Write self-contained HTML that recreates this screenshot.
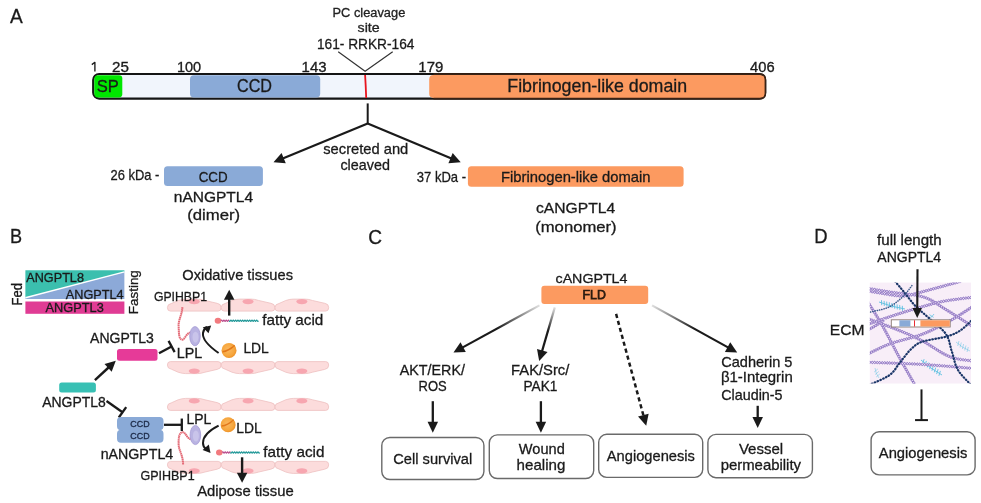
<!DOCTYPE html>
<html><head><meta charset="utf-8"><style>
html,body{margin:0;padding:0;background:#fff;width:981px;height:503px;overflow:hidden}
svg{display:block;will-change:transform}
text{font-family:"Liberation Sans",sans-serif}
</style></head><body>
<svg width="981" height="503" viewBox="0 0 981 503">
<defs>
<marker id="ah" viewBox="0 0 10 10" refX="9" refY="5" markerWidth="4" markerHeight="4" orient="auto-start-reverse"><path d="M0,0 L10,5 L0,10 z" fill="#1a1a1a"/></marker>
</defs>
<text x="10.10" y="23.20" font-size="21" textLength="12.74" lengthAdjust="spacingAndGlyphs" fill="#1a1a1a" stroke="#1a1a1a" stroke-width="0.3" >A</text>
<path d="M94.9,71.6 L94.9,62.3 L91.8,64.6" fill="none" stroke="#1a1a1a" stroke-width="1.35" stroke-linejoin="round"/>
<text x="112.14" y="71.70" font-size="13.8" textLength="16.90" lengthAdjust="spacingAndGlyphs" fill="#1a1a1a" stroke="#1a1a1a" stroke-width="0.3" >25</text>
<text x="176.91" y="71.70" font-size="13.8" textLength="24.25" lengthAdjust="spacingAndGlyphs" fill="#1a1a1a" stroke="#1a1a1a" stroke-width="0.3" >100</text>
<text x="301.58" y="71.70" font-size="13.8" textLength="24.97" lengthAdjust="spacingAndGlyphs" fill="#1a1a1a" stroke="#1a1a1a" stroke-width="0.3" >143</text>
<text x="418.38" y="71.70" font-size="13.8" textLength="24.95" lengthAdjust="spacingAndGlyphs" fill="#1a1a1a" stroke="#1a1a1a" stroke-width="0.3" >179</text>
<text x="750.11" y="71.70" font-size="13.8" textLength="24.53" lengthAdjust="spacingAndGlyphs" fill="#1a1a1a" stroke="#1a1a1a" stroke-width="0.3" >406</text>
<rect x="93.2" y="74.0" width="672" height="24.6" rx="6" fill="#f1f5fc" stroke="#151515" stroke-width="2.2"/>
<path d="M98,75.2 L119,75.2 Q122.3,75.2 122.3,78.5 L122.3,94.3 Q122.3,97.4 119,97.4 L98,97.4 Q94.3,97.4 94.3,93.7 L94.3,79 Q94.3,75.2 98,75.2 Z" fill="#00e600"/>
<rect x="190" y="75.2" width="130.2" height="22.2" rx="4" fill="#8aaad7"/>
<path d="M433.5,74.9 L760,74.9 Q765,74.9 765,79.9 L765,93.2 Q765,97.9 760,97.9 L433.5,97.9 Q429.2,97.9 429.2,93.6 L429.2,79.2 Q429.2,74.9 433.5,74.9 Z" fill="#fc9a60"/>
<path d="M433.5,74.1 L760,74.1 Q765.4,74.1 765.4,79.5 L765.4,93.3 Q765.4,98.6 760,98.6 L433.5,98.6" fill="none" stroke="#3a2214" stroke-width="1.6"/>
<path d="M365.1,75 Q365.8,86 366.2,98" fill="none" stroke="#e8141e" stroke-width="1.8"/>
<text x="96.86" y="91.70" font-size="17.3" textLength="22.04" lengthAdjust="spacingAndGlyphs" fill="#1a1a1a" stroke="#1a1a1a" stroke-width="0.3" >SP</text>
<text x="236.99" y="92.00" font-size="18" textLength="34.96" lengthAdjust="spacingAndGlyphs" fill="#1a1a1a" stroke="#1a1a1a" stroke-width="0.3" >CCD</text>
<text x="507.28" y="91.90" font-size="17.7" textLength="179.91" lengthAdjust="spacingAndGlyphs" fill="#1a1a1a" stroke="#1a1a1a" stroke-width="0.3" >Fibrinogen-like domain</text>
<polyline points="338.2,51.7 365.1,71.2 392.7,51.7" fill="none" stroke="#333" stroke-width="1.2"/>
<text x="332.57" y="16.50" font-size="12.5" textLength="72.70" lengthAdjust="spacingAndGlyphs" fill="#222" stroke="#222" stroke-width="0.3" >PC cleavage</text>
<text x="357.57" y="32.00" font-size="12.5" textLength="22.08" lengthAdjust="spacingAndGlyphs" fill="#222" stroke="#222" stroke-width="0.3" >site</text>
<text x="316.97" y="48.60" font-size="15" textLength="97.43" lengthAdjust="spacingAndGlyphs" fill="#1a1a1a" stroke="#1a1a1a" stroke-width="0.3" >161- RRKR-164</text>
<line x1="367.7" y1="103.4" x2="367.7" y2="124" stroke="#1a1a1a" stroke-width="2"/>
<line x1="367.70" y1="123.50" x2="282.75" y2="158.49" stroke="#1a1a1a" stroke-width="2.2"/>
<path d="M273.50,162.30 L281.58,153.03 L285.77,163.20 Z" fill="#1a1a1a"/>
<line x1="367.70" y1="123.50" x2="451.47" y2="158.45" stroke="#1a1a1a" stroke-width="2.2"/>
<path d="M460.70,162.30 L448.43,163.14 L452.67,152.99 Z" fill="#1a1a1a"/>
<text x="323.26" y="153.90" font-size="15" textLength="85.02" lengthAdjust="spacingAndGlyphs" fill="#1a1a1a" stroke="#1a1a1a" stroke-width="0.3" >secreted and</text>
<text x="340.43" y="170.20" font-size="15" textLength="49.43" lengthAdjust="spacingAndGlyphs" fill="#1a1a1a" stroke="#1a1a1a" stroke-width="0.3" >cleaved</text>
<rect x="164" y="166.2" width="98.9" height="19.9" rx="3.5" fill="#8aaad7"/>
<text x="198.63" y="182.00" font-size="15" textLength="28.99" lengthAdjust="spacingAndGlyphs" fill="#1a1a1a" stroke="#1a1a1a" stroke-width="0.3" >CCD</text>
<text x="110.55" y="180.40" font-size="15" textLength="48.82" lengthAdjust="spacingAndGlyphs" fill="#1a1a1a" stroke="#1a1a1a" stroke-width="0.3" >26 kDa -</text>
<text x="173.79" y="202.10" font-size="15" textLength="79.33" lengthAdjust="spacingAndGlyphs" fill="#1a1a1a" stroke="#1a1a1a" stroke-width="0.3" >nANGPTL4</text>
<text x="187.20" y="219.50" font-size="15" textLength="52.93" lengthAdjust="spacingAndGlyphs" fill="#1a1a1a" stroke="#1a1a1a" stroke-width="0.3" >(dimer)</text>
<rect x="467.9" y="166.2" width="215.7" height="20.5" rx="3.5" fill="#fc9a60"/>
<text x="501.02" y="181.50" font-size="15" textLength="149.57" lengthAdjust="spacingAndGlyphs" fill="#1a1a1a" stroke="#1a1a1a" stroke-width="0.3" >Fibrinogen-like domain</text>
<text x="416.78" y="181.50" font-size="15" textLength="49.30" lengthAdjust="spacingAndGlyphs" fill="#1a1a1a" stroke="#1a1a1a" stroke-width="0.3" >37 kDa -</text>
<text x="535.97" y="213.30" font-size="15" textLength="79.13" lengthAdjust="spacingAndGlyphs" fill="#1a1a1a" stroke="#1a1a1a" stroke-width="0.3" >cANGPTL4</text>
<text x="535.20" y="232.20" font-size="15" textLength="81.48" lengthAdjust="spacingAndGlyphs" fill="#1a1a1a" stroke="#1a1a1a" stroke-width="0.3" >(monomer)</text>
<text x="10.05" y="242.90" font-size="21" textLength="12.09" lengthAdjust="spacingAndGlyphs" fill="#1a1a1a" stroke="#1a1a1a" stroke-width="0.3" >B</text>
<path d="M25.4,270.3 L124.4,270.3 L124.4,271.9 L25.4,297.7 Z" fill="#3bbfae"/>
<path d="M124.4,271.9 L124.4,299.1 L25.4,299.1 L25.4,297.7 Z" fill="#8ca9d8"/>
<line x1="25.4" y1="297.7" x2="124.4" y2="271.9" stroke="#fff" stroke-width="1.4"/>
<rect x="25.4" y="301.5" width="99" height="12.3" fill="#e03c94"/>
<text x="26.30" y="281.70" font-size="12.4" textLength="57.63" lengthAdjust="spacingAndGlyphs" fill="#1a1a1a" stroke="#1a1a1a" stroke-width="0.3" >ANGPTL8</text>
<text x="65.80" y="298.70" font-size="12.4" textLength="57.71" lengthAdjust="spacingAndGlyphs" fill="#1a1a1a" stroke="#1a1a1a" stroke-width="0.3" >ANGPTL4</text>
<text x="45.60" y="311.90" font-size="12.4" textLength="58.14" lengthAdjust="spacingAndGlyphs" fill="#1a1a1a" stroke="#1a1a1a" stroke-width="0.3" >ANGPTL3</text>
<g transform="translate(22,304.4) rotate(-90)"><text x="-1.05" y="0.00" font-size="14.3" textLength="22.54" lengthAdjust="spacingAndGlyphs" fill="#1a1a1a" stroke="#1a1a1a" stroke-width="0.3" >Fed</text></g>
<g transform="translate(137.5,313.2) rotate(-90)"><text x="-1.08" y="0.00" font-size="12.7" textLength="44.14" lengthAdjust="spacingAndGlyphs" fill="#1a1a1a" stroke="#1a1a1a" stroke-width="0.3" >Fasting</text></g>
<path d="M170.4,311.1 L218.10000000000002,311.1 Q221.10000000000002,311.1 221.10000000000002,307.6 Q221.10000000000002,303.8 217.10000000000002,303.3 L204.99,300.5 Q200.69400000000002,299.1 197.472,299.1 L185.65800000000002,299.1 Q182.436,299.1 178.14000000000001,300.5 L171.4,303.5 Q167.4,304.1 167.4,307.6 Q167.4,311.1 170.4,311.1 Z" fill="#fcdcdc" stroke="#eec0c0" stroke-width="0.8"/>
<ellipse cx="194.25" cy="301.6" rx="5.5" ry="2.6" fill="#f7a6b0"/>
<path d="M224.2,311.1 L271.9,311.1 Q274.9,311.1 274.9,307.6 Q274.9,303.8 270.9,303.3 L258.78999999999996,300.5 Q254.494,299.1 251.272,299.1 L239.458,299.1 Q236.236,299.1 231.94,300.5 L225.2,303.5 Q221.2,304.1 221.2,307.6 Q221.2,311.1 224.2,311.1 Z" fill="#fcdcdc" stroke="#eec0c0" stroke-width="0.8"/>
<ellipse cx="248.04999999999998" cy="301.6" rx="5.5" ry="2.6" fill="#f7a6b0"/>
<path d="M278.0,311.1 L325.7,311.1 Q328.7,311.1 328.7,307.6 Q328.7,303.8 324.7,303.3 L312.59,300.5 Q308.294,299.1 305.072,299.1 L293.258,299.1 Q290.036,299.1 285.74,300.5 L279.0,303.5 Q275.0,304.1 275.0,307.6 Q275.0,311.1 278.0,311.1 Z" fill="#fcdcdc" stroke="#eec0c0" stroke-width="0.8"/>
<ellipse cx="301.85" cy="301.6" rx="5.5" ry="2.6" fill="#f7a6b0"/>
<path d="M170.4,361.6 L218.10000000000002,361.6 Q221.10000000000002,361.6 221.10000000000002,365.1 Q221.10000000000002,368.90000000000003 217.10000000000002,369.40000000000003 L204.99,372.20000000000005 Q200.69400000000002,373.6 197.472,373.6 L185.65800000000002,373.6 Q182.436,373.6 178.14000000000001,372.20000000000005 L171.4,369.20000000000005 Q167.4,368.6 167.4,365.1 Q167.4,361.6 170.4,361.6 Z" fill="#fcdcdc" stroke="#eec0c0" stroke-width="0.8"/>
<ellipse cx="194.25" cy="371.1" rx="5.5" ry="2.6" fill="#f7a6b0"/>
<path d="M224.2,361.6 L271.9,361.6 Q274.9,361.6 274.9,365.1 Q274.9,368.90000000000003 270.9,369.40000000000003 L258.78999999999996,372.20000000000005 Q254.494,373.6 251.272,373.6 L239.458,373.6 Q236.236,373.6 231.94,372.20000000000005 L225.2,369.20000000000005 Q221.2,368.6 221.2,365.1 Q221.2,361.6 224.2,361.6 Z" fill="#fcdcdc" stroke="#eec0c0" stroke-width="0.8"/>
<ellipse cx="248.04999999999998" cy="371.1" rx="5.5" ry="2.6" fill="#f7a6b0"/>
<path d="M278.0,361.6 L325.7,361.6 Q328.7,361.6 328.7,365.1 Q328.7,368.90000000000003 324.7,369.40000000000003 L312.59,372.20000000000005 Q308.294,373.6 305.072,373.6 L293.258,373.6 Q290.036,373.6 285.74,372.20000000000005 L279.0,369.20000000000005 Q275.0,368.6 275.0,365.1 Q275.0,361.6 278.0,361.6 Z" fill="#fcdcdc" stroke="#eec0c0" stroke-width="0.8"/>
<ellipse cx="301.85" cy="371.1" rx="5.5" ry="2.6" fill="#f7a6b0"/>
<path d="M170.4,410.4 L218.10000000000002,410.4 Q221.10000000000002,410.4 221.10000000000002,406.9 Q221.10000000000002,403.09999999999997 217.10000000000002,402.59999999999997 L204.99,399.79999999999995 Q200.69400000000002,398.4 197.472,398.4 L185.65800000000002,398.4 Q182.436,398.4 178.14000000000001,399.79999999999995 L171.4,402.79999999999995 Q167.4,403.4 167.4,406.9 Q167.4,410.4 170.4,410.4 Z" fill="#fcdcdc" stroke="#eec0c0" stroke-width="0.8"/>
<ellipse cx="194.25" cy="400.9" rx="5.5" ry="2.6" fill="#f7a6b0"/>
<path d="M224.2,410.4 L271.9,410.4 Q274.9,410.4 274.9,406.9 Q274.9,403.09999999999997 270.9,402.59999999999997 L258.78999999999996,399.79999999999995 Q254.494,398.4 251.272,398.4 L239.458,398.4 Q236.236,398.4 231.94,399.79999999999995 L225.2,402.79999999999995 Q221.2,403.4 221.2,406.9 Q221.2,410.4 224.2,410.4 Z" fill="#fcdcdc" stroke="#eec0c0" stroke-width="0.8"/>
<ellipse cx="248.04999999999998" cy="400.9" rx="5.5" ry="2.6" fill="#f7a6b0"/>
<path d="M278.0,410.4 L325.7,410.4 Q328.7,410.4 328.7,406.9 Q328.7,403.09999999999997 324.7,402.59999999999997 L312.59,399.79999999999995 Q308.294,398.4 305.072,398.4 L293.258,398.4 Q290.036,398.4 285.74,399.79999999999995 L279.0,402.79999999999995 Q275.0,403.4 275.0,406.9 Q275.0,410.4 278.0,410.4 Z" fill="#fcdcdc" stroke="#eec0c0" stroke-width="0.8"/>
<ellipse cx="301.85" cy="400.9" rx="5.5" ry="2.6" fill="#f7a6b0"/>
<path d="M170.4,461.4 L218.10000000000002,461.4 Q221.10000000000002,461.4 221.10000000000002,464.9 Q221.10000000000002,468.7 217.10000000000002,469.2 L204.99,472.0 Q200.69400000000002,473.4 197.472,473.4 L185.65800000000002,473.4 Q182.436,473.4 178.14000000000001,472.0 L171.4,469.0 Q167.4,468.4 167.4,464.9 Q167.4,461.4 170.4,461.4 Z" fill="#fcdcdc" stroke="#eec0c0" stroke-width="0.8"/>
<ellipse cx="194.25" cy="470.9" rx="5.5" ry="2.6" fill="#f7a6b0"/>
<path d="M224.2,461.4 L271.9,461.4 Q274.9,461.4 274.9,464.9 Q274.9,468.7 270.9,469.2 L258.78999999999996,472.0 Q254.494,473.4 251.272,473.4 L239.458,473.4 Q236.236,473.4 231.94,472.0 L225.2,469.0 Q221.2,468.4 221.2,464.9 Q221.2,461.4 224.2,461.4 Z" fill="#fcdcdc" stroke="#eec0c0" stroke-width="0.8"/>
<ellipse cx="248.04999999999998" cy="470.9" rx="5.5" ry="2.6" fill="#f7a6b0"/>
<path d="M278.0,461.4 L325.7,461.4 Q328.7,461.4 328.7,464.9 Q328.7,468.7 324.7,469.2 L312.59,472.0 Q308.294,473.4 305.072,473.4 L293.258,473.4 Q290.036,473.4 285.74,472.0 L279.0,469.0 Q275.0,468.4 275.0,464.9 Q275.0,461.4 278.0,461.4 Z" fill="#fcdcdc" stroke="#eec0c0" stroke-width="0.8"/>
<ellipse cx="301.85" cy="470.9" rx="5.5" ry="2.6" fill="#f7a6b0"/>
<text x="153.89" y="300.80" font-size="13.5" textLength="53.17" lengthAdjust="spacingAndGlyphs" fill="#1a1a1a" stroke="#1a1a1a" stroke-width="0.3" >GPIHBP1</text>
<text x="140.47" y="479.80" font-size="13.5" textLength="54.19" lengthAdjust="spacingAndGlyphs" fill="#1a1a1a" stroke="#1a1a1a" stroke-width="0.3" >GPIHBP1</text>
<text x="182.24" y="279.90" font-size="14.7" textLength="110.75" lengthAdjust="spacingAndGlyphs" fill="#1a1a1a" stroke="#1a1a1a" stroke-width="0.3" >Oxidative tissues</text>
<ellipse cx="218" cy="320.7" rx="3.3" ry="3" fill="#f27a7e"/>
<path d="M221,320.7 Q221.59,319.2 222.17,320.7 Q222.75,322.2 223.34,320.7 Q223.92,319.2 224.51,320.7 Q225.09,322.2 225.68,320.7 Q226.26,319.2 226.85,320.7 Q227.43,322.2 228.02,320.7 Q228.60,319.2 229.19,320.7" fill="none" stroke="#b8488a" stroke-width="1.1"/>
<path d="M229,320.7 Q229.77,322.2 230.36,320.7 Q230.94,319.2 231.53,320.7 Q232.11,322.2 232.70,320.7 Q233.28,319.2 233.87,320.7 Q234.45,322.2 235.04,320.7 Q235.62,319.2 236.21,320.7 Q236.79,322.2 237.38,320.7 Q237.96,319.2 238.55,320.7 Q239.13,322.2 239.72,320.7 Q240.30,319.2 240.89,320.7 Q241.47,322.2 242.06,320.7 Q242.64,319.2 243.23,320.7 Q243.81,322.2 244.40,320.7 Q244.98,319.2 245.57,320.7 Q246.15,322.2 246.74,320.7 Q247.32,319.2 247.91,320.7 Q248.49,322.2 249.08,320.7 Q249.66,319.2 250.25,320.7 Q250.83,322.2 251.42,320.7 Q252.00,319.2 252.59,320.7 Q253.17,322.2 253.76,320.7 Q254.34,319.2 254.93,320.7 Q255.51,322.2 256.10,320.7 Q256.68,319.2 257.27,320.7 Q257.85,322.2 258.44,320.7" fill="none" stroke="#1c9696" stroke-width="1.1"/>
<ellipse cx="219.3" cy="452.5" rx="3.3" ry="3" fill="#f27a7e"/>
<path d="M222.3,452.5 Q222.89,451.0 223.47,452.5 Q224.06,454.0 224.64,452.5 Q225.22,451.0 225.81,452.5 Q226.39,454.0 226.98,452.5 Q227.56,451.0 228.15,452.5 Q228.73,454.0 229.32,452.5 Q229.90,451.0 230.49,452.5" fill="none" stroke="#b8488a" stroke-width="1.1"/>
<path d="M230.2,452.5 Q231.07,454.0 231.66,452.5 Q232.24,451.0 232.83,452.5 Q233.41,454.0 234.00,452.5 Q234.58,451.0 235.17,452.5 Q235.75,454.0 236.34,452.5 Q236.92,451.0 237.51,452.5 Q238.09,454.0 238.68,452.5 Q239.26,451.0 239.85,452.5 Q240.43,454.0 241.02,452.5 Q241.60,451.0 242.19,452.5 Q242.77,454.0 243.36,452.5 Q243.94,451.0 244.53,452.5 Q245.11,454.0 245.70,452.5 Q246.28,451.0 246.87,452.5 Q247.45,454.0 248.04,452.5 Q248.62,451.0 249.21,452.5 Q249.79,454.0 250.38,452.5 Q250.96,451.0 251.55,452.5 Q252.13,454.0 252.72,452.5 Q253.30,451.0 253.89,452.5 Q254.47,454.0 255.06,452.5 Q255.64,451.0 256.23,452.5 Q256.81,454.0 257.40,452.5 Q257.98,451.0 258.57,452.5 Q259.15,454.0 259.74,452.5" fill="none" stroke="#1c9696" stroke-width="1.1"/>
<text x="262.17" y="324.70" font-size="15" textLength="61.15" lengthAdjust="spacingAndGlyphs" fill="#1a1a1a" stroke="#1a1a1a" stroke-width="0.3" >fatty acid</text>
<text x="263.37" y="456.90" font-size="15" textLength="61.05" lengthAdjust="spacingAndGlyphs" fill="#1a1a1a" stroke="#1a1a1a" stroke-width="0.3" >fatty acid</text>
<line x1="229.20" y1="315.60" x2="229.20" y2="298.70" stroke="#1a1a1a" stroke-width="2.4"/>
<path d="M229.20,289.70 L234.45,299.70 L223.95,299.70 Z" fill="#1a1a1a"/>
<line x1="242.10" y1="457.30" x2="242.10" y2="473.80" stroke="#1a1a1a" stroke-width="2.4"/>
<path d="M242.10,482.80 L236.85,472.80 L247.35,472.80 Z" fill="#1a1a1a"/>
<path d="M182.4,307.1 C182,315 178.3,320 178.6,326 C179,332 178.5,338 181.5,339.5 C184.5,341 186,333 190.5,332.5" fill="none" stroke="#e46c78" stroke-width="2" stroke-dasharray="1.6,0.4"/>
<path d="M183.1,464.4 C183,455 178.5,450 178.6,443.8 C178.6,438 179,433 182,432.3 C186,431.5 186,438 190.8,439.2" fill="none" stroke="#e46c78" stroke-width="2" stroke-dasharray="1.6,0.4"/>
<ellipse cx="195" cy="336.2" rx="5.3" ry="9.6" fill="#b9b3e2" stroke="#a49ad4" stroke-width="0.8"/>
<ellipse cx="195.5" cy="337.2" rx="3" ry="5.5" fill="#c9c4ea"/>
<ellipse cx="195.4" cy="435" rx="5.3" ry="9.6" fill="#b9b3e2" stroke="#a49ad4" stroke-width="0.8"/>
<ellipse cx="195.9" cy="436" rx="3" ry="5.5" fill="#c9c4ea"/>
<defs><radialGradient id="ldlg" cx="0.45" cy="0.45" r="0.6"><stop offset="0" stop-color="#fbb861"/><stop offset="0.7" stop-color="#f6a63c"/><stop offset="1" stop-color="#ec8c22"/></radialGradient></defs>
<circle cx="229" cy="350.4" r="7.5" fill="url(#ldlg)"/>
<path d="M222.4,351.7 Q228.5,351.2 234.6,345.4" fill="none" stroke="#e2781a" stroke-width="1.5"/>
<path d="M230,343.59999999999997 Q234,346.4 235.8,351.4" fill="none" stroke="#ef9a3a" stroke-width="0.8" opacity="0.7"/>
<circle cx="228.1" cy="424.7" r="7.5" fill="url(#ldlg)"/>
<path d="M221.5,426.0 Q227.6,425.5 233.7,419.7" fill="none" stroke="#e2781a" stroke-width="1.5"/>
<path d="M229.1,417.9 Q233.1,420.7 234.9,425.7" fill="none" stroke="#ef9a3a" stroke-width="0.8" opacity="0.7"/>
<text x="243.39" y="353.00" font-size="14" textLength="25.42" lengthAdjust="spacingAndGlyphs" fill="#1a1a1a" stroke="#1a1a1a" stroke-width="0.3" >LDL</text>
<text x="236.29" y="432.80" font-size="14" textLength="25.42" lengthAdjust="spacingAndGlyphs" fill="#1a1a1a" stroke="#1a1a1a" stroke-width="0.3" >LDL</text>
<text x="176.76" y="358.10" font-size="14" textLength="25.47" lengthAdjust="spacingAndGlyphs" fill="#1a1a1a" stroke="#1a1a1a" stroke-width="0.3" >LPL</text>
<text x="186.48" y="424.40" font-size="14" textLength="24.83" lengthAdjust="spacingAndGlyphs" fill="#1a1a1a" stroke="#1a1a1a" stroke-width="0.3" >LPL</text>
<path d="M218.6,353 C210,347 202,340 203,333 C203.5,330 205,328 207,327" fill="none" stroke="#1a1a1a" stroke-width="2"/>
<path d="M211.2,325.5 L202.8,327.3 L208.5,333.2 Z" fill="#1a1a1a"/>
<path d="M218.6,425.7 C210,430 203,436 203,443 C203,446 204.5,448 206,449" fill="none" stroke="#1a1a1a" stroke-width="2"/>
<path d="M210.5,453 L208.8,444.6 L202.6,450 Z" fill="#1a1a1a"/>
<line x1="159.00" y1="353.30" x2="171.60" y2="346.50" stroke="#1a1a1a" stroke-width="2.3"/>
<line x1="174.64" y1="352.13" x2="168.56" y2="340.87" stroke="#1a1a1a" stroke-width="2.3"/>
<rect x="117" y="349.1" width="40.5" height="11.7" rx="2.5" fill="#e63a98"/>
<text x="90.10" y="343.20" font-size="14" textLength="63.79" lengthAdjust="spacingAndGlyphs" fill="#1a1a1a" stroke="#1a1a1a" stroke-width="0.3" >ANGPTL3</text>
<rect x="59.2" y="382.5" width="36.7" height="9.9" rx="2.5" fill="#38c0b4"/>
<line x1="94.90" y1="380.10" x2="108.82" y2="367.25" stroke="#1a1a1a" stroke-width="2.4"/>
<path d="M115.80,360.80 L111.65,371.78 L104.52,364.07 Z" fill="#1a1a1a"/>
<text x="42.20" y="407.20" font-size="14" textLength="63.59" lengthAdjust="spacingAndGlyphs" fill="#1a1a1a" stroke="#1a1a1a" stroke-width="0.3" >ANGPTL8</text>
<line x1="106.50" y1="401.00" x2="122.50" y2="412.30" stroke="#1a1a1a" stroke-width="2.3"/>
<line x1="118.81" y1="417.53" x2="126.19" y2="407.07" stroke="#1a1a1a" stroke-width="2.3"/>
<path d="M121,417.1 L159.5,417.1 Q163.5,417.1 163.5,421.1 L163.5,426 Q163.5,429.6 161,429.9 Q163.5,430.4 163.5,434 L163.5,438.7 Q163.5,442.7 159.5,442.7 L121,442.7 Q117,442.7 117,438.7 L117,434 Q117,430.4 119.5,429.9 Q117,429.6 117,426 L117,421.1 Q117,417.1 121,417.1 Z" fill="#8aaad7"/>
<text x="130.36" y="426.90" font-size="9.2" textLength="19.26" lengthAdjust="spacingAndGlyphs" fill="#1c2a48" stroke="#1c2a48" stroke-width="0.3" >CCD</text>
<text x="130.36" y="439.40" font-size="9.2" textLength="19.26" lengthAdjust="spacingAndGlyphs" fill="#1c2a48" stroke="#1c2a48" stroke-width="0.3" >CCD</text>
<text x="100.68" y="458.80" font-size="14" textLength="72.60" lengthAdjust="spacingAndGlyphs" fill="#1a1a1a" stroke="#1a1a1a" stroke-width="0.3" >nANGPTL4</text>
<line x1="164.00" y1="424.80" x2="181.80" y2="424.80" stroke="#1a1a1a" stroke-width="2.3"/>
<line x1="181.80" y1="431.05" x2="181.80" y2="418.55" stroke="#1a1a1a" stroke-width="2.3"/>
<text x="197.20" y="495.50" font-size="14.8" textLength="96.45" lengthAdjust="spacingAndGlyphs" fill="#1a1a1a" stroke="#1a1a1a" stroke-width="0.3" >Adipose tissue</text>
<text x="368.15" y="243.90" font-size="21" textLength="13.76" lengthAdjust="spacingAndGlyphs" fill="#1a1a1a" stroke="#1a1a1a" stroke-width="0.3" >C</text>
<text x="555.53" y="283.10" font-size="13.3" textLength="71.93" lengthAdjust="spacingAndGlyphs" fill="#1a1a1a" stroke="#1a1a1a" stroke-width="0.3" >cANGPTL4</text>
<rect x="541.4" y="285.7" width="106.8" height="18.3" rx="3" fill="#fc9a60"/>
<text x="582.51" y="299.00" font-size="12.5" textLength="23.29" lengthAdjust="spacingAndGlyphs" fill="#2a1a10" stroke="#2a1a10" stroke-width="0.75" >FLD</text>
<defs>
<linearGradient id="g1" gradientUnits="userSpaceOnUse" x1="539.5" y1="305.4" x2="453.7" y2="352.1"><stop offset="0" stop-color="#e0e0e0"/><stop offset="0.5" stop-color="#1a1a1a"/></linearGradient>
<linearGradient id="g2" gradientUnits="userSpaceOnUse" x1="554.8" y1="307.4" x2="539.5" y2="360.2"><stop offset="0" stop-color="#e0e0e0"/><stop offset="0.45" stop-color="#1a1a1a"/></linearGradient>
<linearGradient id="g3" gradientUnits="userSpaceOnUse" x1="616.1" y1="313.9" x2="646.2" y2="425.8"><stop offset="0" stop-color="#333"/><stop offset="0.2" stop-color="#1a1a1a"/></linearGradient>
<linearGradient id="g4" gradientUnits="userSpaceOnUse" x1="652" y1="305.4" x2="736.8" y2="352.1"><stop offset="0" stop-color="#e0e0e0"/><stop offset="0.5" stop-color="#1a1a1a"/></linearGradient>
</defs>
<line x1="539.50" y1="305.40" x2="462.28" y2="347.60" stroke="url(#g1)" stroke-width="2.2"/>
<path d="M453.50,352.40 L460.51,342.30 L465.79,351.95 Z" fill="#1a1a1a"/>
<line x1="554.80" y1="307.40" x2="541.99" y2="351.40" stroke="url(#g2)" stroke-width="2.2"/>
<path d="M539.20,361.00 L536.99,348.90 L547.55,351.98 Z" fill="#1a1a1a"/>
<line x1="616.10" y1="313.90" x2="643.60" y2="416.14" stroke="#1a1a1a" stroke-width="2.5" stroke-dasharray="4.2,3"/>
<path d="M646.20,425.80 L638.03,416.61 L648.65,413.75 Z" fill="#1a1a1a"/>
<line x1="652.00" y1="305.40" x2="728.45" y2="347.66" stroke="url(#g4)" stroke-width="2.2"/>
<path d="M737.20,352.50 L724.91,351.99 L730.23,342.36 Z" fill="#1a1a1a"/>
<text x="399.80" y="375.30" font-size="14.2" textLength="65.15" lengthAdjust="spacingAndGlyphs" fill="#1a1a1a" stroke="#1a1a1a" stroke-width="0.3" >AKT/ERK/</text>
<text x="418.56" y="391.40" font-size="14.2" textLength="28.15" lengthAdjust="spacingAndGlyphs" fill="#1a1a1a" stroke="#1a1a1a" stroke-width="0.3" >ROS</text>
<text x="511.12" y="375.30" font-size="14.2" textLength="58.21" lengthAdjust="spacingAndGlyphs" fill="#1a1a1a" stroke="#1a1a1a" stroke-width="0.3" >FAK/Src/</text>
<text x="523.51" y="391.40" font-size="14.2" textLength="33.95" lengthAdjust="spacingAndGlyphs" fill="#1a1a1a" stroke="#1a1a1a" stroke-width="0.3" >PAK1</text>
<line x1="432.80" y1="401.20" x2="432.80" y2="422.80" stroke="#1a1a1a" stroke-width="2.3"/>
<path d="M432.80,432.80 L427.55,421.80 L438.05,421.80 Z" fill="#1a1a1a"/>
<line x1="540.90" y1="401.20" x2="540.90" y2="422.80" stroke="#1a1a1a" stroke-width="2.3"/>
<path d="M540.90,432.80 L535.65,421.80 L546.15,421.80 Z" fill="#1a1a1a"/>
<line x1="757.70" y1="405.80" x2="757.70" y2="418.00" stroke="#1a1a1a" stroke-width="2.3"/>
<path d="M757.70,428.00 L752.45,417.00 L762.95,417.00 Z" fill="#1a1a1a"/>
<rect x="381.8" y="437.5" width="102.1" height="41.99999999999998" rx="8" fill="#fff" stroke="#6a6a6a" stroke-width="1.4"/>
<rect x="489.3" y="434.9" width="104.39999999999995" height="43.6" rx="8" fill="#fff" stroke="#6a6a6a" stroke-width="1.4"/>
<rect x="598.7" y="434.3" width="103.99999999999997" height="43.1" rx="8" fill="#fff" stroke="#6a6a6a" stroke-width="1.4"/>
<rect x="707.9000000000001" y="434.4" width="104.49999999999997" height="43.29999999999999" rx="8" fill="#fff" stroke="#6a6a6a" stroke-width="1.4"/>
<text x="393.27" y="463.70" font-size="15.5" textLength="78.99" lengthAdjust="spacingAndGlyphs" fill="#1a1a1a" stroke="#1a1a1a" stroke-width="0.3" >Cell survival</text>
<text x="518.83" y="453.70" font-size="15" textLength="45.93" lengthAdjust="spacingAndGlyphs" fill="#1a1a1a" stroke="#1a1a1a" stroke-width="0.3" >Wound</text>
<text x="516.64" y="470.30" font-size="15" textLength="48.74" lengthAdjust="spacingAndGlyphs" fill="#1a1a1a" stroke="#1a1a1a" stroke-width="0.3" >healing</text>
<text x="606.80" y="461.30" font-size="15" textLength="88.11" lengthAdjust="spacingAndGlyphs" fill="#1a1a1a" stroke="#1a1a1a" stroke-width="0.3" >Angiogenesis</text>
<text x="738.92" y="453.90" font-size="15" textLength="44.27" lengthAdjust="spacingAndGlyphs" fill="#1a1a1a" stroke="#1a1a1a" stroke-width="0.3" >Vessel</text>
<text x="720.63" y="469.80" font-size="15" textLength="80.39" lengthAdjust="spacingAndGlyphs" fill="#1a1a1a" stroke="#1a1a1a" stroke-width="0.3" >permeability</text>
<text x="721.27" y="366.70" font-size="14.5" textLength="71.14" lengthAdjust="spacingAndGlyphs" fill="#1a1a1a" stroke="#1a1a1a" stroke-width="0.3" >Cadherin 5</text>
<text x="720.95" y="382.40" font-size="14.5" textLength="71.82" lengthAdjust="spacingAndGlyphs" fill="#1a1a1a" stroke="#1a1a1a" stroke-width="0.3" >β1-Integrin</text>
<text x="721.28" y="399.80" font-size="14.5" textLength="61.30" lengthAdjust="spacingAndGlyphs" fill="#1a1a1a" stroke="#1a1a1a" stroke-width="0.3" >Claudin-5</text>
<text x="814.32" y="242.60" font-size="20" textLength="13.35" lengthAdjust="spacingAndGlyphs" fill="#1a1a1a" stroke="#1a1a1a" stroke-width="0.3" >D</text>
<text x="877.07" y="244.90" font-size="14" textLength="64.62" lengthAdjust="spacingAndGlyphs" fill="#1a1a1a" stroke="#1a1a1a" stroke-width="0.3" >full length</text>
<text x="877.30" y="261.70" font-size="14.4" textLength="63.85" lengthAdjust="spacingAndGlyphs" fill="#1a1a1a" stroke="#1a1a1a" stroke-width="0.3" >ANGPTL4</text>
<rect x="869.8" y="282.6" width="101.2" height="100.9" fill="#f8eef8"/>
<text x="829.75" y="335.10" font-size="15.5" textLength="34.74" lengthAdjust="spacingAndGlyphs" fill="#1a1a1a" stroke="#1a1a1a" stroke-width="0.3" >ECM</text>
<clipPath id="ecm"><rect x="869.8" y="282.6" width="101.2" height="100.9"/></clipPath><g clip-path="url(#ecm)">
<path d="M879.0,302.0 Q891.6,306.9 905.0,309.0 M881.5,300.2 L881.7,305.2 M884.1,300.9 L884.3,305.9 M886.7,301.6 L886.9,306.6 M889.3,302.3 L889.5,307.3 M891.9,303.0 L892.1,308.0 M894.5,303.7 L894.7,308.7 M897.1,304.4 L897.3,309.4 M899.7,305.1 L899.9,310.1 M902.3,305.8 L902.5,310.8" fill="none" stroke="#5cbfe0" stroke-width="0.9" opacity="1"/>
<path d="M921.0,360.0 Q930.6,368.7 942.0,375.0 M924.1,359.2 L922.6,364.1 M926.4,360.9 L924.9,365.8 M928.7,362.6 L927.3,367.4 M931.1,364.2 L929.6,369.1 M933.4,365.9 L931.9,370.8 M935.7,367.6 L934.3,372.4 M938.1,369.2 L936.6,374.1 M940.4,370.9 L938.9,375.8" fill="none" stroke="#5cbfe0" stroke-width="0.9" opacity="1"/>
<path d="M956.0,342.0 Q962.2,347.8 970.0,351.0 M959.0,341.0 L957.7,346.0 M961.3,342.5 L960.0,347.5 M963.6,344.0 L962.4,349.0 M966.0,345.5 L964.7,350.5 M968.3,347.0 L967.0,352.0" fill="none" stroke="#5cbfe0" stroke-width="0.9" opacity="0.55"/>
<path d="M875.0,368.0 Q875.6,373.6 879.0,378.0 M877.9,368.9 L874.1,372.1 M878.9,371.4 L875.1,374.6 M879.9,373.9 L876.1,377.1" fill="none" stroke="#5cbfe0" stroke-width="0.9" opacity="0.5"/>
<path d="M929.0,318.0 Q932.4,317.2 934.0,314.0 M929.4,314.6 L933.6,317.4" fill="none" stroke="#5cbfe0" stroke-width="0.9" opacity="0.8"/>
<path d="M866.0,290.7 L866.5,290.8 L867.0,290.9 L867.5,291.0 L868.0,291.0 L868.5,291.1 L869.0,291.2 L869.5,291.3 L869.9,291.4 L870.4,291.5 L870.9,291.5 L871.4,291.6 L871.9,291.7 L872.4,291.8 L872.9,291.9 L873.4,292.0 L873.9,292.0 L874.4,292.1 L874.9,292.2 L875.4,292.3 L875.9,292.4 L876.4,292.4 L876.8,292.5 L877.3,292.6 L877.8,292.7 L878.3,292.7 L878.8,292.8 L879.3,292.9 L879.8,293.0 L880.3,293.0 L880.8,293.1 L881.3,293.2 L881.8,293.3 L882.3,293.4 L882.8,293.5 L883.3,293.5 L883.8,293.6 L884.3,293.7 L884.7,293.8 L885.2,293.9 L885.7,294.0 L886.2,294.1 L886.7,294.1 L887.2,294.2 L887.7,294.3 L888.2,294.4 L888.7,294.5 L889.2,294.6 L889.7,294.7 L890.2,294.7 L890.7,294.8 L891.2,294.9 L891.6,295.0 L892.1,295.1 L892.6,295.1 L893.1,295.2 L893.6,295.3 L894.1,295.4 L894.6,295.4 L895.1,295.5 L895.6,295.6 L896.1,295.6 L896.6,295.7 L897.1,295.7 L897.6,295.8 L898.1,295.9 L898.6,295.9 L899.1,295.9 L899.6,296.0 L900.1,296.0 L900.6,296.0 L901.1,296.1 L901.6,296.1 L902.1,296.1 L902.6,296.1 L903.1,296.1 L903.6,296.1 L904.1,296.1 L904.6,296.0 L905.1,296.0 L905.6,295.9 L906.1,295.9 L906.6,295.8 L907.1,295.7 L907.6,295.7 L908.0,295.6 L908.5,295.5 L909.0,295.4 L909.5,295.2 L910.0,295.1 L910.5,295.0 L911.0,294.9 L911.4,294.7 L911.9,294.6 L912.4,294.5 L912.9,294.3 L913.4,294.2 L913.8,294.0 L914.3,293.9 L914.8,293.8 L915.3,293.6 L915.8,293.5 L916.2,293.3 L916.7,293.2 L917.2,293.1 L917.7,293.0 L918.2,292.9 L918.7,292.7 L919.2,292.6 L919.6,292.5 L920.1,292.4 L920.6,292.2 L921.1,292.1 L921.6,292.0 L922.1,291.9 L922.5,291.7 L923.0,291.6 L923.5,291.5 L924.0,291.4 L924.5,291.2 L925.0,291.1 L925.4,291.0 L925.9,290.8 L926.4,290.7 L926.9,290.6 L927.4,290.5 L927.9,290.3 L928.3,290.2 L928.8,290.1 L929.3,289.9 L929.8,289.8 L930.3,289.7 L930.8,289.5 L931.2,289.4 L931.7,289.3 L932.2,289.1 L932.7,289.0 L933.2,288.9 L933.6,288.7 L934.1,288.6 L934.6,288.5 L935.1,288.3 L935.6,288.2 L936.1,288.1 L936.5,287.9 L937.0,287.8 L937.5,287.7 L938.0,287.5 L938.5,287.4 L938.9,287.3 L939.4,287.2 L939.9,287.0 L940.4,286.9 L940.9,286.8 L941.4,286.6 L941.8,286.5 L942.3,286.4 L942.8,286.2 L943.3,286.1 L943.8,286.0 L944.3,285.8 L944.7,285.7 L945.2,285.6 L945.7,285.5 L946.2,285.3 L946.7,285.2 L947.2,285.1 L947.6,284.9 L948.1,284.8 L948.6,284.7 L949.1,284.5 L949.6,284.4 L950.0,284.3 L950.5,284.1 L951.0,284.0 L951.5,283.9 L952.0,283.7 L952.5,283.6 L952.9,283.5 L953.4,283.3 L953.9,283.2 L954.4,283.1 L954.9,282.9 L955.4,282.8 L955.8,282.7 L956.3,282.6 L956.8,282.4 L957.3,282.3 L957.8,282.2 L958.2,282.0 L958.7,281.9 L959.2,281.8 L959.7,281.6 L960.2,281.5 L960.7,281.4 L961.1,281.2 L961.6,281.1" fill="none" stroke="#e9dff3" stroke-width="2.6" stroke-linecap="round"/>
<path d="M866.0,290.7 L866.4,291.5 L866.8,292.0 L867.3,292.1 L867.8,291.8 L868.5,291.1 L869.1,290.5 L869.7,290.1 L870.1,290.2 L870.6,290.7 L870.9,291.5 L871.3,292.4 L871.7,292.9 L872.2,293.0 L872.8,292.6 L873.4,292.0 L874.0,291.3 L874.6,290.9 L875.1,291.0 L875.5,291.6 L875.9,292.4 L876.2,293.2 L876.7,293.7 L877.2,293.8 L877.7,293.4 L878.3,292.7 L878.9,292.1 L879.5,291.7 L880.0,291.8 L880.4,292.3 L880.8,293.1 L881.2,293.9 L881.6,294.5 L882.1,294.5 L882.7,294.2 L883.3,293.5 L883.9,292.9 L884.5,292.5 L885.0,292.6 L885.4,293.2 L885.7,294.0 L886.1,294.8 L886.5,295.3 L887.0,295.4 L887.6,295.0 L888.2,294.4 L888.8,293.8 L889.4,293.4 L889.9,293.5 L890.3,294.0 L890.7,294.8 L891.0,295.6 L891.5,296.2 L892.0,296.2 L892.5,295.9 L893.1,295.2 L893.7,294.6 L894.3,294.2 L894.8,294.2 L895.2,294.8 L895.6,295.6 L896.0,296.4 L896.5,296.9 L897.0,296.9 L897.5,296.5 L898.1,295.9 L898.6,295.2 L899.2,294.8 L899.7,294.8 L900.1,295.3 L900.6,296.0 L901.1,296.8 L901.5,297.3 L902.1,297.3 L902.6,296.8 L903.1,296.1 L903.6,295.3 L904.0,294.9 L904.5,294.8 L905.0,295.2 L905.6,295.9 L906.2,296.6 L906.7,297.0 L907.2,296.9 L907.7,296.4 L908.0,295.6 L908.4,294.7 L908.8,294.2 L909.2,294.1 L909.8,294.4 L910.5,295.0 L911.2,295.6 L911.8,295.9 L912.3,295.7 L912.6,295.2 L912.9,294.3 L913.2,293.5 L913.5,292.9 L914.0,292.7 L914.6,293.0 L915.3,293.6 L916.0,294.2 L916.6,294.5 L917.0,294.4 L917.4,293.8 L917.7,293.0 L918.0,292.1 L918.4,291.6 L918.9,291.5 L919.5,291.8 L920.1,292.4 L920.8,293.0 L921.4,293.3 L921.9,293.2 L922.2,292.6 L922.5,291.7 L922.8,290.9 L923.2,290.3 L923.7,290.2 L924.3,290.5 L925.0,291.1 L925.6,291.7 L926.2,292.0 L926.7,291.9 L927.1,291.3 L927.4,290.5 L927.7,289.6 L928.0,289.0 L928.5,288.9 L929.1,289.2 L929.8,289.8 L930.5,290.4 L931.1,290.7 L931.5,290.5 L931.9,290.0 L932.2,289.1 L932.5,288.3 L932.8,287.7 L933.3,287.6 L933.9,287.9 L934.6,288.5 L935.3,289.0 L935.9,289.4 L936.4,289.2 L936.7,288.7 L937.0,287.8 L937.3,287.0 L937.7,286.4 L938.2,286.3 L938.8,286.6 L939.4,287.2 L940.1,287.7 L940.7,288.0 L941.2,287.9 L941.6,287.3 L941.8,286.5 L942.1,285.7 L942.5,285.1 L943.0,285.0 L943.6,285.3 L944.3,285.8 L944.9,286.4 L945.5,286.7 L946.0,286.6 L946.4,286.0 L946.7,285.2 L947.0,284.3 L947.3,283.8 L947.8,283.6 L948.4,284.0 L949.1,284.5 L949.8,285.1 L950.4,285.4 L950.8,285.3 L951.2,284.7 L951.5,283.9 L951.8,283.0 L952.1,282.5 L952.6,282.3 L953.2,282.6 L953.9,283.2 L954.6,283.8 L955.2,284.1 L955.7,284.0 L956.0,283.4 L956.3,282.6 L956.6,281.7 L957.0,281.1 L957.4,281.0 L958.1,281.3 L958.7,281.9 L959.4,282.5 L960.0,282.8 L960.5,282.6 L960.9,282.1 L961.1,281.2 L961.4,280.4" fill="none" stroke="#8468bd" stroke-width="0.85"/>
<path d="M866.0,290.7 L866.6,290.1 L867.2,289.7 L867.7,289.8 L868.1,290.3 L868.5,291.1 L868.8,291.9 L869.2,292.5 L869.7,292.5 L870.3,292.2 L870.9,291.5 L871.5,290.9 L872.1,290.5 L872.6,290.6 L873.0,291.1 L873.4,292.0 L873.8,292.8 L874.2,293.3 L874.7,293.4 L875.3,293.0 L875.9,292.4 L876.5,291.7 L877.0,291.3 L877.5,291.4 L878.0,291.9 L878.3,292.7 L878.7,293.5 L879.1,294.1 L879.6,294.1 L880.2,293.8 L880.8,293.1 L881.4,292.5 L882.0,292.1 L882.5,292.2 L882.9,292.7 L883.3,293.5 L883.6,294.3 L884.0,294.9 L884.5,295.0 L885.1,294.6 L885.7,294.0 L886.4,293.3 L886.9,293.0 L887.4,293.1 L887.8,293.6 L888.2,294.4 L888.6,295.2 L889.0,295.7 L889.5,295.8 L890.0,295.5 L890.7,294.8 L891.3,294.2 L891.8,293.8 L892.3,293.9 L892.7,294.4 L893.1,295.2 L893.5,296.0 L894.0,296.5 L894.4,296.6 L895.0,296.2 L895.6,295.6 L896.2,294.9 L896.7,294.5 L897.2,294.6 L897.7,295.1 L898.1,295.9 L898.5,296.6 L899.0,297.1 L899.5,297.2 L900.0,296.7 L900.6,296.0 L901.1,295.3 L901.6,294.9 L902.1,294.9 L902.6,295.4 L903.1,296.1 L903.6,296.8 L904.1,297.2 L904.7,297.2 L905.1,296.7 L905.6,295.9 L906.0,295.1 L906.4,294.6 L906.9,294.6 L907.4,294.9 L908.0,295.6 L908.7,296.2 L909.3,296.5 L909.8,296.4 L910.2,295.8 L910.5,295.0 L910.8,294.2 L911.1,293.6 L911.6,293.4 L912.2,293.7 L912.9,294.3 L913.6,294.9 L914.2,295.2 L914.7,295.0 L915.0,294.5 L915.3,293.6 L915.6,292.8 L915.9,292.2 L916.4,292.1 L917.0,292.4 L917.7,293.0 L918.4,293.6 L919.0,293.9 L919.4,293.8 L919.8,293.2 L920.1,292.4 L920.4,291.5 L920.8,291.0 L921.3,290.8 L921.9,291.2 L922.5,291.7 L923.2,292.3 L923.8,292.6 L924.3,292.5 L924.7,291.9 L925.0,291.1 L925.3,290.3 L925.6,289.7 L926.1,289.6 L926.7,289.9 L927.4,290.5 L928.1,291.0 L928.7,291.3 L929.1,291.2 L929.5,290.6 L929.8,289.8 L930.1,289.0 L930.4,288.4 L930.9,288.3 L931.5,288.6 L932.2,289.1 L932.9,289.7 L933.5,290.0 L934.0,289.9 L934.3,289.3 L934.6,288.5 L934.9,287.6 L935.3,287.1 L935.7,286.9 L936.3,287.2 L937.0,287.8 L937.7,288.4 L938.3,288.7 L938.8,288.6 L939.1,288.0 L939.4,287.2 L939.7,286.3 L940.1,285.7 L940.6,285.6 L941.2,285.9 L941.8,286.5 L942.5,287.1 L943.1,287.4 L943.6,287.3 L944.0,286.7 L944.3,285.8 L944.5,285.0 L944.9,284.4 L945.4,284.3 L946.0,284.6 L946.7,285.2 L947.3,285.8 L947.9,286.1 L948.4,285.9 L948.8,285.4 L949.1,284.5 L949.4,283.7 L949.7,283.1 L950.2,283.0 L950.8,283.3 L951.5,283.9 L952.2,284.4 L952.8,284.8 L953.3,284.6 L953.6,284.1 L953.9,283.2 L954.2,282.4 L954.6,281.8 L955.0,281.7 L955.6,282.0 L956.3,282.6 L957.0,283.1 L957.6,283.4 L958.1,283.3 L958.4,282.7 L958.7,281.9 L959.0,281.1 L959.4,280.5 L959.9,280.4 L960.5,280.7 L961.1,281.2 L961.8,281.8" fill="none" stroke="#8468bd" stroke-width="0.85"/>
<path d="M866.0,299.0 L866.3,299.4 L866.5,299.8 L866.8,300.3 L867.1,300.7 L867.3,301.1 L867.6,301.5 L867.9,302.0 L868.1,302.4 L868.4,302.8 L868.7,303.2 L868.9,303.7 L869.2,304.1 L869.5,304.5 L869.7,304.9 L870.0,305.3 L870.3,305.8 L870.5,306.2 L870.8,306.6 L871.1,307.0 L871.3,307.5 L871.6,307.9 L871.9,308.3 L872.1,308.7 L872.4,309.1 L872.7,309.6 L872.9,310.0 L873.2,310.4 L873.5,310.8 L873.7,311.3 L874.0,311.7 L874.3,312.1 L874.5,312.5 L874.8,313.0 L875.1,313.4 L875.3,313.8 L875.6,314.2 L875.8,314.7 L876.1,315.1 L876.4,315.5 L876.6,315.9 L876.9,316.4 L877.1,316.8 L877.4,317.2 L877.7,317.7 L877.9,318.1 L878.2,318.5 L878.4,318.9 L878.7,319.4 L879.0,319.8 L879.2,320.2 L879.5,320.7 L879.7,321.1 L880.0,321.5 L880.2,321.9 L880.5,322.4 L880.7,322.8 L881.0,323.2 L881.2,323.7 L881.5,324.1 L881.7,324.5 L882.0,325.0 L882.2,325.4 L882.5,325.8 L882.7,326.3 L883.0,326.7 L883.2,327.2 L883.5,327.6 L883.7,328.0 L883.9,328.5 L884.2,328.9 L884.4,329.3 L884.7,329.8 L884.9,330.2 L885.1,330.7 L885.4,331.1 L885.6,331.5 L885.9,332.0 L886.1,332.4 L886.3,332.9 L886.6,333.3 L886.8,333.7 L887.0,334.2 L887.3,334.6 L887.5,335.1 L887.7,335.5 L888.0,335.9 L888.2,336.4 L888.4,336.8 L888.7,337.3 L888.9,337.7 L889.1,338.2 L889.4,338.6 L889.6,339.0 L889.8,339.5 L890.1,339.9 L890.3,340.4 L890.5,340.8 L890.8,341.2 L891.0,341.7 L891.2,342.1 L891.5,342.6 L891.7,343.0 L891.9,343.5 L892.2,343.9 L892.4,344.3 L892.6,344.8 L892.9,345.2 L893.1,345.7 L893.3,346.1 L893.6,346.6 L893.8,347.0 L894.0,347.4 L894.3,347.9 L894.5,348.3 L894.7,348.8 L895.0,349.2 L895.2,349.7 L895.4,350.1 L895.7,350.5 L895.9,351.0 L896.1,351.4 L896.4,351.9 L896.6,352.3 L896.8,352.8 L897.1,353.2 L897.3,353.6 L897.5,354.1 L897.8,354.5 L898.0,355.0 L898.2,355.4 L898.5,355.8 L898.7,356.3 L899.0,356.7 L899.2,357.2 L899.4,357.6 L899.7,358.0 L899.9,358.5 L900.2,358.9 L900.4,359.4 L900.6,359.8 L900.9,360.2 L901.1,360.7 L901.4,361.1 L901.6,361.5 L901.8,362.0 L902.1,362.4 L902.3,362.8 L902.6,363.3 L902.8,363.7 L903.1,364.2 L903.3,364.6 L903.6,365.0 L903.8,365.5 L904.1,365.9 L904.3,366.3 L904.5,366.8 L904.8,367.2 L905.0,367.6 L905.3,368.1 L905.5,368.5 L905.8,368.9 L906.0,369.4 L906.3,369.8 L906.5,370.2 L906.8,370.7 L907.0,371.1 L907.3,371.6 L907.5,372.0 L907.8,372.4 L908.0,372.9 L908.3,373.3 L908.5,373.7 L908.8,374.2 L909.0,374.6 L909.3,375.0 L909.5,375.5 L909.8,375.9 L910.0,376.3 L910.3,376.8 L910.5,377.2 L910.8,377.6 L911.0,378.1 L911.2,378.5 L911.5,378.9 L911.7,379.4 L912.0,379.8 L912.2,380.2 L912.5,380.7 L912.7,381.1 L913.0,381.5 L913.2,382.0 L913.5,382.4 L913.7,382.8 L914.0,383.3 L914.2,383.7 L914.5,384.1 L914.7,384.6 L915.0,385.0" fill="none" stroke="#e9dff3" stroke-width="2.6" stroke-linecap="round"/>
<path d="M866.0,299.0 L865.6,299.8 L865.5,300.5 L865.8,300.9 L866.4,301.1 L867.3,301.1 L868.2,301.1 L868.9,301.3 L869.1,301.8 L869.0,302.4 L868.7,303.2 L868.3,304.0 L868.2,304.7 L868.5,305.1 L869.1,305.3 L870.0,305.3 L870.9,305.4 L871.5,305.6 L871.8,306.0 L871.7,306.6 L871.3,307.5 L871.0,308.3 L870.9,308.9 L871.1,309.4 L871.8,309.5 L872.7,309.6 L873.6,309.6 L874.2,309.8 L874.5,310.2 L874.4,310.9 L874.0,311.7 L873.6,312.5 L873.5,313.2 L873.8,313.6 L874.4,313.8 L875.3,313.8 L876.2,313.9 L876.9,314.0 L877.1,314.5 L877.0,315.1 L876.6,315.9 L876.3,316.8 L876.1,317.4 L876.4,317.8 L877.0,318.0 L877.9,318.1 L878.8,318.1 L879.5,318.3 L879.7,318.8 L879.6,319.4 L879.2,320.2 L878.8,321.0 L878.7,321.7 L879.0,322.1 L879.6,322.3 L880.5,322.4 L881.4,322.4 L882.0,322.6 L882.3,323.1 L882.1,323.7 L881.7,324.5 L881.3,325.3 L881.2,326.0 L881.4,326.4 L882.1,326.6 L883.0,326.7 L883.8,326.8 L884.5,327.0 L884.7,327.4 L884.6,328.1 L884.2,328.9 L883.8,329.7 L883.6,330.3 L883.9,330.8 L884.5,331.0 L885.4,331.1 L886.3,331.2 L886.9,331.4 L887.1,331.9 L887.0,332.5 L886.6,333.3 L886.2,334.1 L886.0,334.7 L886.2,335.2 L886.9,335.4 L887.7,335.5 L888.6,335.6 L889.3,335.8 L889.5,336.3 L889.3,336.9 L888.9,337.7 L888.5,338.5 L888.3,339.1 L888.6,339.6 L889.2,339.8 L890.1,339.9 L891.0,340.0 L891.6,340.3 L891.8,340.7 L891.7,341.3 L891.2,342.1 L890.8,342.9 L890.7,343.6 L890.9,344.0 L891.5,344.2 L892.4,344.3 L893.3,344.4 L893.9,344.7 L894.2,345.1 L894.0,345.8 L893.6,346.6 L893.1,347.3 L893.0,348.0 L893.2,348.4 L893.8,348.7 L894.7,348.8 L895.6,348.9 L896.2,349.1 L896.5,349.5 L896.3,350.2 L895.9,351.0 L895.5,351.8 L895.3,352.4 L895.5,352.9 L896.2,353.1 L897.1,353.2 L898.0,353.3 L898.6,353.5 L898.8,354.0 L898.7,354.6 L898.2,355.4 L897.8,356.2 L897.7,356.8 L897.9,357.3 L898.6,357.5 L899.4,357.6 L900.3,357.7 L901.0,357.9 L901.2,358.3 L901.0,359.0 L900.6,359.8 L900.2,360.6 L900.1,361.2 L900.3,361.7 L901.0,361.9 L901.8,362.0 L902.7,362.1 L903.4,362.3 L903.6,362.7 L903.5,363.4 L903.1,364.2 L902.7,365.0 L902.5,365.6 L902.8,366.1 L903.4,366.3 L904.3,366.3 L905.2,366.4 L905.8,366.6 L906.1,367.1 L905.9,367.7 L905.5,368.5 L905.1,369.3 L905.0,370.0 L905.2,370.4 L905.9,370.6 L906.8,370.7 L907.7,370.8 L908.3,371.0 L908.5,371.4 L908.4,372.1 L908.0,372.9 L907.6,373.7 L907.5,374.3 L907.7,374.7 L908.4,375.0 L909.3,375.0 L910.1,375.1 L910.8,375.3 L911.0,375.7 L910.9,376.4 L910.5,377.2 L910.1,378.0 L910.0,378.6 L910.2,379.1 L910.9,379.3 L911.7,379.4 L912.6,379.4 L913.3,379.6 L913.5,380.1 L913.4,380.7 L913.0,381.5 L912.6,382.3 L912.5,383.0 L912.7,383.4 L913.4,383.6 L914.2,383.7 L915.1,383.8 L915.8,384.0 L916.0,384.4" fill="none" stroke="#8468bd" stroke-width="0.85"/>
<path d="M866.0,299.0 L866.9,299.0 L867.5,299.2 L867.8,299.6 L867.7,300.3 L867.3,301.1 L867.0,301.9 L866.9,302.6 L867.1,303.0 L867.8,303.2 L868.7,303.2 L869.6,303.3 L870.2,303.4 L870.5,303.9 L870.4,304.5 L870.0,305.3 L869.6,306.2 L869.5,306.8 L869.8,307.2 L870.5,307.4 L871.3,307.5 L872.2,307.5 L872.9,307.7 L873.1,308.1 L873.0,308.8 L872.7,309.6 L872.3,310.4 L872.2,311.0 L872.5,311.5 L873.1,311.7 L874.0,311.7 L874.9,311.7 L875.5,311.9 L875.8,312.3 L875.7,313.0 L875.3,313.8 L875.0,314.6 L874.8,315.3 L875.1,315.7 L875.7,315.9 L876.6,315.9 L877.5,316.0 L878.2,316.2 L878.4,316.6 L878.3,317.3 L877.9,318.1 L877.6,318.9 L877.4,319.5 L877.7,320.0 L878.3,320.2 L879.2,320.2 L880.1,320.3 L880.7,320.5 L881.0,320.9 L880.9,321.6 L880.5,322.4 L880.1,323.2 L880.0,323.8 L880.2,324.3 L880.8,324.5 L881.7,324.5 L882.6,324.6 L883.3,324.8 L883.5,325.3 L883.4,325.9 L883.0,326.7 L882.6,327.5 L882.4,328.2 L882.7,328.6 L883.3,328.8 L884.2,328.9 L885.1,329.0 L885.7,329.2 L885.9,329.6 L885.8,330.3 L885.4,331.1 L885.0,331.9 L884.8,332.5 L885.0,333.0 L885.7,333.2 L886.6,333.3 L887.4,333.4 L888.1,333.6 L888.3,334.1 L888.2,334.7 L887.7,335.5 L887.3,336.3 L887.2,336.9 L887.4,337.4 L888.0,337.6 L888.9,337.7 L889.8,337.8 L890.4,338.0 L890.7,338.5 L890.5,339.1 L890.1,339.9 L889.7,340.7 L889.5,341.4 L889.7,341.8 L890.4,342.0 L891.2,342.1 L892.1,342.2 L892.8,342.5 L893.0,342.9 L892.8,343.6 L892.4,344.3 L892.0,345.1 L891.8,345.8 L892.1,346.2 L892.7,346.5 L893.6,346.6 L894.5,346.7 L895.1,346.9 L895.3,347.3 L895.1,348.0 L894.7,348.8 L894.3,349.6 L894.1,350.2 L894.4,350.7 L895.0,350.9 L895.9,351.0 L896.8,351.1 L897.4,351.3 L897.6,351.8 L897.5,352.4 L897.1,353.2 L896.7,354.0 L896.5,354.6 L896.7,355.1 L897.4,355.3 L898.2,355.4 L899.1,355.5 L899.8,355.7 L900.0,356.2 L899.8,356.8 L899.4,357.6 L899.0,358.4 L898.9,359.0 L899.1,359.5 L899.8,359.7 L900.6,359.8 L901.5,359.9 L902.2,360.1 L902.4,360.5 L902.2,361.2 L901.8,362.0 L901.5,362.8 L901.3,363.4 L901.5,363.9 L902.2,364.1 L903.1,364.2 L904.0,364.2 L904.6,364.4 L904.8,364.9 L904.7,365.5 L904.3,366.3 L903.9,367.1 L903.8,367.8 L904.0,368.2 L904.6,368.4 L905.5,368.5 L906.4,368.6 L907.1,368.8 L907.3,369.2 L907.2,369.9 L906.8,370.7 L906.4,371.5 L906.2,372.1 L906.5,372.6 L907.1,372.8 L908.0,372.9 L908.9,372.9 L909.5,373.1 L909.8,373.6 L909.6,374.2 L909.3,375.0 L908.9,375.8 L908.7,376.5 L909.0,376.9 L909.6,377.1 L910.5,377.2 L911.4,377.3 L912.0,377.5 L912.3,377.9 L912.1,378.6 L911.7,379.4 L911.4,380.2 L911.2,380.8 L911.5,381.2 L912.1,381.5 L913.0,381.5 L913.9,381.6 L914.5,381.8 L914.8,382.2 L914.6,382.9 L914.2,383.7 L913.9,384.5 L913.7,385.1 L914.0,385.6" fill="none" stroke="#8468bd" stroke-width="0.85"/>
<path d="M866.0,325.0 L866.5,324.8 L866.9,324.7 L867.4,324.5 L867.9,324.3 L868.4,324.2 L868.8,324.0 L869.3,323.8 L869.8,323.7 L870.2,323.5 L870.7,323.3 L871.2,323.2 L871.7,323.0 L872.1,322.9 L872.6,322.7 L873.1,322.5 L873.6,322.4 L874.0,322.2 L874.5,322.0 L875.0,321.9 L875.4,321.7 L875.9,321.5 L876.4,321.4 L876.9,321.2 L877.3,321.0 L877.8,320.9 L878.3,320.7 L878.7,320.5 L879.2,320.4 L879.7,320.2 L880.2,320.0 L880.6,319.9 L881.1,319.7 L881.6,319.6 L882.0,319.4 L882.5,319.2 L883.0,319.1 L883.5,318.9 L883.9,318.7 L884.4,318.6 L884.9,318.4 L885.4,318.2 L885.8,318.1 L886.3,317.9 L886.8,317.8 L887.2,317.6 L887.7,317.4 L888.2,317.3 L888.7,317.1 L889.1,317.0 L889.6,316.8 L890.1,316.6 L890.6,316.5 L891.0,316.3 L891.5,316.2 L892.0,316.0 L892.5,315.8 L892.9,315.7 L893.4,315.5 L893.9,315.4 L894.4,315.2 L894.8,315.1 L895.3,314.9 L895.8,314.7 L896.3,314.6 L896.7,314.4 L897.2,314.3 L897.7,314.1 L898.2,314.0 L898.6,313.8 L899.1,313.7 L899.6,313.5 L900.1,313.4 L900.5,313.2 L901.0,313.1 L901.5,312.9 L902.0,312.8 L902.5,312.6 L902.9,312.5 L903.4,312.3 L903.9,312.2 L904.4,312.0 L904.8,311.9 L905.3,311.7 L905.8,311.6 L906.3,311.4 L906.8,311.3 L907.2,311.1 L907.7,311.0 L908.2,310.8 L908.7,310.7 L909.1,310.6 L909.6,310.4 L910.1,310.3 L910.6,310.1 L911.1,310.0 L911.5,309.8 L912.0,309.7 L912.5,309.6 L913.0,309.4 L913.5,309.3 L913.9,309.1 L914.4,309.0 L914.9,308.8 L915.4,308.7 L915.9,308.6 L916.3,308.4 L916.8,308.3 L917.3,308.1 L917.8,308.0 L918.3,307.9 L918.7,307.7 L919.2,307.6 L919.7,307.5 L920.2,307.3 L920.7,307.2 L921.1,307.0 L921.6,306.9 L922.1,306.8 L922.6,306.6 L923.1,306.5 L923.5,306.4 L924.0,306.2 L924.5,306.1 L925.0,306.0 L925.5,305.8 L925.9,305.7 L926.4,305.5 L926.9,305.4 L927.4,305.3 L927.9,305.1 L928.4,305.0 L928.8,304.9 L929.3,304.7 L929.8,304.6 L930.3,304.5 L930.8,304.3 L931.2,304.2 L931.7,304.1 L932.2,303.9 L932.7,303.8 L933.2,303.7 L933.7,303.5 L934.1,303.4 L934.6,303.3 L935.1,303.2 L935.6,303.0 L936.1,302.9 L936.6,302.8 L937.1,302.7 L937.5,302.6 L938.0,302.5 L938.5,302.3 L939.0,302.2 L939.5,302.1 L940.0,302.0 L940.5,301.9 L941.0,301.8 L941.4,301.7 L941.9,301.6 L942.4,301.5 L942.9,301.4 L943.4,301.3 L943.9,301.2 L944.4,301.1 L944.9,301.0 L945.4,300.9 L945.9,300.9 L946.4,300.8 L946.8,300.7 L947.3,300.6 L947.8,300.5 L948.3,300.4 L948.8,300.4 L949.3,300.3 L949.8,300.2 L950.3,300.1 L950.8,300.1 L951.3,300.0 L951.8,299.9 L952.3,299.8 L952.8,299.8 L953.3,299.7 L953.8,299.6 L954.3,299.6 L954.8,299.5 L955.3,299.4 L955.7,299.4 L956.2,299.3 L956.7,299.2 L957.2,299.2 L957.7,299.1 L958.2,299.0 L958.7,299.0 L959.2,298.9 L959.7,298.9 L960.2,298.8 L960.7,298.7 L961.2,298.7 L961.7,298.6 L962.2,298.5 L962.7,298.5 L963.2,298.4 L963.7,298.4 L964.2,298.3 L964.7,298.2 L965.2,298.2 L965.7,298.1 L966.2,298.1 L966.7,298.0 L967.2,297.9 L967.7,297.9 L968.2,297.8 L968.7,297.8 L969.1,297.7 L969.6,297.7 L970.1,297.6 L970.6,297.5 L971.1,297.5 L971.6,297.4 L972.1,297.4 L972.6,297.3 L973.1,297.2 L973.6,297.2 L974.1,297.1 L974.6,297.0" fill="none" stroke="#e9dff3" stroke-width="2.6" stroke-linecap="round"/>
<path d="M866.0,325.0 L866.7,325.5 L867.3,325.8 L867.8,325.6 L868.1,325.0 L868.4,324.2 L868.6,323.3 L868.9,322.7 L869.4,322.6 L870.0,322.8 L870.7,323.3 L871.4,323.9 L872.1,324.1 L872.5,324.0 L872.9,323.4 L873.1,322.5 L873.3,321.7 L873.6,321.1 L874.1,320.9 L874.7,321.2 L875.4,321.7 L876.2,322.2 L876.8,322.5 L877.2,322.3 L877.6,321.7 L877.8,320.9 L878.0,320.0 L878.3,319.4 L878.8,319.3 L879.4,319.5 L880.2,320.0 L880.9,320.6 L881.5,320.8 L882.0,320.7 L882.3,320.1 L882.5,319.2 L882.8,318.4 L883.1,317.8 L883.5,317.6 L884.2,317.9 L884.9,318.4 L885.6,318.9 L886.2,319.2 L886.7,319.0 L887.0,318.5 L887.2,317.6 L887.5,316.7 L887.8,316.1 L888.3,316.0 L888.9,316.3 L889.6,316.8 L890.3,317.3 L890.9,317.6 L891.4,317.4 L891.7,316.9 L892.0,316.0 L892.2,315.1 L892.6,314.6 L893.0,314.4 L893.7,314.7 L894.4,315.2 L895.1,315.8 L895.7,316.0 L896.1,315.9 L896.5,315.3 L896.7,314.4 L897.0,313.6 L897.3,313.0 L897.8,312.8 L898.4,313.1 L899.1,313.7 L899.8,314.2 L900.4,314.5 L900.9,314.4 L901.2,313.8 L901.5,312.9 L901.8,312.1 L902.1,311.5 L902.6,311.3 L903.2,311.6 L903.9,312.2 L904.6,312.7 L905.2,313.0 L905.7,312.9 L906.0,312.3 L906.3,311.4 L906.5,310.6 L906.9,310.0 L907.4,309.9 L908.0,310.1 L908.7,310.7 L909.4,311.3 L910.0,311.6 L910.4,311.4 L910.8,310.8 L911.1,310.0 L911.3,309.1 L911.7,308.6 L912.2,308.4 L912.8,308.7 L913.5,309.3 L914.1,309.8 L914.7,310.1 L915.2,310.0 L915.6,309.4 L915.9,308.6 L916.1,307.7 L916.5,307.1 L917.0,307.0 L917.6,307.3 L918.3,307.9 L918.9,308.4 L919.5,308.7 L920.0,308.6 L920.4,308.0 L920.7,307.2 L920.9,306.3 L921.3,305.8 L921.8,305.6 L922.4,305.9 L923.1,306.5 L923.7,307.1 L924.3,307.4 L924.8,307.2 L925.2,306.7 L925.5,305.8 L925.7,305.0 L926.1,304.4 L926.6,304.3 L927.2,304.6 L927.9,305.1 L928.6,305.7 L929.2,306.0 L929.6,305.9 L930.0,305.3 L930.3,304.5 L930.6,303.6 L930.9,303.0 L931.4,302.9 L932.0,303.2 L932.7,303.8 L933.4,304.4 L934.0,304.7 L934.4,304.6 L934.8,304.0 L935.1,303.2 L935.4,302.3 L935.8,301.8 L936.3,301.7 L936.9,302.0 L937.5,302.6 L938.2,303.2 L938.8,303.5 L939.3,303.4 L939.7,302.8 L940.0,302.0 L940.3,301.2 L940.7,300.6 L941.2,300.5 L941.8,300.9 L942.4,301.5 L943.1,302.1 L943.6,302.5 L944.1,302.4 L944.5,301.8 L944.9,301.0 L945.2,300.2 L945.7,299.7 L946.2,299.6 L946.7,300.0 L947.3,300.6 L948.0,301.2 L948.5,301.6 L949.0,301.5 L949.4,301.0 L949.8,300.2 L950.2,299.4 L950.6,298.9 L951.1,298.8 L951.7,299.2 L952.3,299.8 L952.9,300.5 L953.4,300.9 L953.9,300.8 L954.4,300.3 L954.8,299.5 L955.2,298.7 L955.6,298.2 L956.1,298.1 L956.6,298.5 L957.2,299.2 L957.8,299.8 L958.4,300.2 L958.9,300.2 L959.3,299.6 L959.7,298.9 L960.1,298.1 L960.6,297.5 L961.1,297.5 L961.6,297.9 L962.2,298.5 L962.8,299.2 L963.3,299.6 L963.8,299.5 L964.3,299.0 L964.7,298.2 L965.1,297.5 L965.5,296.9 L966.0,296.9 L966.6,297.3 L967.2,297.9 L967.7,298.6 L968.3,299.0 L968.8,299.0 L969.2,298.4 L969.6,297.7 L970.1,296.9 L970.5,296.4 L971.0,296.3 L971.5,296.7 L972.1,297.4 L972.7,298.0 L973.3,298.4 L973.8,298.4 L974.2,297.8 L974.6,297.0" fill="none" stroke="#8468bd" stroke-width="0.85"/>
<path d="M866.0,325.0 L866.2,324.1 L866.6,323.5 L867.0,323.4 L867.6,323.6 L868.4,324.2 L869.1,324.7 L869.7,325.0 L870.2,324.8 L870.5,324.2 L870.7,323.3 L870.9,322.5 L871.3,321.9 L871.7,321.7 L872.4,322.0 L873.1,322.5 L873.8,323.0 L874.4,323.3 L874.9,323.1 L875.2,322.6 L875.4,321.7 L875.7,320.8 L876.0,320.2 L876.5,320.1 L877.1,320.3 L877.8,320.9 L878.5,321.4 L879.1,321.7 L879.6,321.5 L879.9,320.9 L880.2,320.0 L880.4,319.2 L880.7,318.6 L881.2,318.4 L881.8,318.7 L882.5,319.2 L883.2,319.8 L883.9,320.0 L884.3,319.9 L884.6,319.3 L884.9,318.4 L885.1,317.5 L885.4,317.0 L885.9,316.8 L886.5,317.1 L887.2,317.6 L888.0,318.1 L888.6,318.4 L889.0,318.2 L889.4,317.6 L889.6,316.8 L889.9,315.9 L890.2,315.3 L890.7,315.2 L891.3,315.5 L892.0,316.0 L892.7,316.5 L893.3,316.8 L893.8,316.7 L894.1,316.1 L894.4,315.2 L894.6,314.4 L894.9,313.8 L895.4,313.6 L896.0,313.9 L896.7,314.4 L897.4,315.0 L898.1,315.3 L898.5,315.1 L898.9,314.5 L899.1,313.7 L899.4,312.8 L899.7,312.2 L900.2,312.1 L900.8,312.4 L901.5,312.9 L902.2,313.5 L902.8,313.8 L903.3,313.6 L903.6,313.0 L903.9,312.2 L904.1,311.3 L904.5,310.7 L905.0,310.6 L905.6,310.9 L906.3,311.4 L907.0,312.0 L907.6,312.3 L908.1,312.1 L908.4,311.6 L908.7,310.7 L908.9,309.9 L909.3,309.3 L909.8,309.1 L910.4,309.4 L911.1,310.0 L911.7,310.5 L912.4,310.8 L912.8,310.7 L913.2,310.1 L913.5,309.3 L913.7,308.4 L914.1,307.8 L914.6,307.7 L915.2,308.0 L915.9,308.6 L916.5,309.1 L917.1,309.4 L917.6,309.3 L918.0,308.7 L918.3,307.9 L918.5,307.0 L918.9,306.4 L919.4,306.3 L920.0,306.6 L920.7,307.2 L921.3,307.8 L921.9,308.1 L922.4,307.9 L922.8,307.3 L923.1,306.5 L923.3,305.7 L923.7,305.1 L924.2,304.9 L924.8,305.2 L925.5,305.8 L926.1,306.4 L926.8,306.7 L927.2,306.6 L927.6,306.0 L927.9,305.1 L928.2,304.3 L928.5,303.7 L929.0,303.6 L929.6,303.9 L930.3,304.5 L931.0,305.0 L931.6,305.3 L932.0,305.2 L932.4,304.6 L932.7,303.8 L933.0,303.0 L933.4,302.4 L933.8,302.3 L934.4,302.6 L935.1,303.2 L935.8,303.8 L936.4,304.1 L936.8,304.0 L937.2,303.4 L937.5,302.6 L937.9,301.7 L938.2,301.2 L938.7,301.1 L939.3,301.4 L940.0,302.0 L940.6,302.6 L941.2,303.0 L941.7,302.9 L942.1,302.3 L942.4,301.5 L942.8,300.7 L943.2,300.1 L943.7,300.0 L944.2,300.4 L944.9,301.0 L945.5,301.7 L946.1,302.0 L946.6,301.9 L947.0,301.4 L947.3,300.6 L947.7,299.8 L948.1,299.3 L948.6,299.2 L949.2,299.6 L949.8,300.2 L950.4,300.9 L951.0,301.2 L951.5,301.2 L951.9,300.6 L952.3,299.8 L952.7,299.0 L953.1,298.5 L953.6,298.5 L954.2,298.8 L954.8,299.5 L955.3,300.2 L955.9,300.5 L956.4,300.5 L956.8,300.0 L957.2,299.2 L957.6,298.4 L958.1,297.9 L958.6,297.8 L959.1,298.2 L959.7,298.9 L960.3,299.5 L960.9,299.9 L961.4,299.8 L961.8,299.3 L962.2,298.5 L962.6,297.8 L963.0,297.2 L963.5,297.2 L964.1,297.6 L964.7,298.2 L965.3,298.9 L965.8,299.3 L966.3,299.2 L966.8,298.7 L967.2,297.9 L967.6,297.2 L968.0,296.6 L968.5,296.6 L969.1,297.0 L969.6,297.7 L970.2,298.3 L970.8,298.7 L971.3,298.7 L971.7,298.1 L972.1,297.4 L972.5,296.6 L973.0,296.1 L973.5,296.0 L974.0,296.4 L974.6,297.0" fill="none" stroke="#8468bd" stroke-width="0.85"/>
<path d="M866.0,288.0 L866.5,288.1 L867.0,288.2 L867.5,288.2 L868.0,288.3 L868.5,288.4 L869.0,288.5 L869.5,288.6 L869.9,288.7 L870.4,288.8 L870.9,288.8 L871.4,288.9 L871.9,289.0 L872.4,289.1 L872.9,289.2 L873.4,289.3 L873.9,289.3 L874.4,289.4 L874.9,289.5 L875.4,289.6 L875.9,289.7 L876.4,289.8 L876.8,289.8 L877.3,289.9 L877.8,290.0 L878.3,290.1 L878.8,290.2 L879.3,290.3 L879.8,290.3 L880.3,290.4 L880.8,290.5 L881.3,290.6 L881.8,290.7 L882.3,290.8 L882.8,290.8 L883.3,290.9 L883.7,291.0 L884.2,291.1 L884.7,291.2 L885.2,291.2 L885.7,291.3 L886.2,291.4 L886.7,291.5 L887.2,291.6 L887.7,291.6 L888.2,291.7 L888.7,291.8 L889.2,291.9 L889.7,291.9 L890.2,292.0 L890.7,292.1 L891.2,292.2 L891.7,292.2 L892.1,292.3 L892.6,292.4 L893.1,292.4 L893.6,292.5 L894.1,292.6 L894.6,292.6 L895.1,292.7 L895.6,292.7 L896.1,292.8 L896.6,292.9 L897.1,292.9 L897.6,293.0 L898.1,293.0 L898.6,293.1 L899.1,293.1 L899.6,293.2 L900.1,293.2 L900.6,293.3 L901.1,293.4 L901.6,293.4 L902.1,293.5 L902.6,293.5 L903.1,293.6 L903.6,293.6 L904.1,293.7 L904.6,293.7 L905.1,293.8 L905.6,293.9 L906.1,293.9 L906.6,294.0 L907.0,294.0 L907.5,294.1 L908.0,294.1 L908.5,294.2 L909.0,294.3 L909.5,294.3 L910.0,294.4 L910.5,294.5 L911.0,294.5 L911.5,294.6 L912.0,294.7 L912.5,294.7 L913.0,294.8 L913.5,294.9 L914.0,295.0 L914.5,295.0 L915.0,295.1 L915.5,295.2 L916.0,295.3 L916.4,295.4 L916.9,295.5 L917.4,295.6 L917.9,295.7 L918.4,295.8 L918.9,295.9 L919.4,296.0 L919.9,296.1 L920.4,296.2 L920.9,296.3 L921.3,296.4 L921.8,296.6 L922.3,296.7 L922.8,296.8 L923.3,297.0 L923.7,297.1 L924.2,297.3 L924.7,297.4 L925.2,297.6 L925.6,297.8 L926.1,297.9 L926.6,298.1 L927.0,298.3 L927.5,298.5 L928.0,298.7 L928.4,298.9 L928.9,299.1 L929.3,299.3 L929.8,299.5 L930.2,299.7 L930.7,300.0 L931.1,300.2 L931.5,300.4 L932.0,300.7 L932.4,300.9 L932.9,301.2 L933.3,301.4 L933.7,301.7 L934.1,302.0 L934.6,302.2 L935.0,302.5 L935.4,302.8 L935.8,303.0 L936.2,303.3 L936.7,303.6 L937.1,303.9 L937.5,304.1 L937.9,304.4 L938.3,304.7 L938.7,305.0 L939.1,305.3 L939.6,305.5 L940.0,305.8 L940.4,306.1 L940.8,306.4 L941.2,306.6 L941.7,306.9 L942.1,307.2 L942.5,307.4 L942.9,307.7 L943.3,308.0 L943.8,308.2 L944.2,308.5 L944.6,308.8 L945.0,309.0 L945.5,309.3 L945.9,309.5 L946.3,309.8 L946.8,310.1 L947.2,310.3 L947.6,310.6 L948.0,310.8 L948.5,311.1 L948.9,311.4 L949.3,311.6 L949.7,311.9 L950.2,312.2 L950.6,312.4 L951.0,312.7 L951.4,313.0 L951.9,313.2 L952.3,313.5 L952.7,313.8 L953.1,314.0 L953.5,314.3 L954.0,314.6 L954.4,314.8 L954.8,315.1 L955.2,315.4 L955.7,315.6 L956.1,315.9 L956.5,316.2 L956.9,316.4 L957.3,316.7 L957.8,317.0 L958.2,317.2 L958.6,317.5 L959.0,317.8 L959.5,318.0 L959.9,318.3 L960.3,318.6 L960.7,318.8 L961.1,319.1 L961.6,319.4 L962.0,319.7 L962.4,319.9 L962.8,320.2 L963.2,320.5 L963.7,320.7 L964.1,321.0 L964.5,321.3 L964.9,321.5 L965.4,321.8 L965.8,322.1 L966.2,322.4 L966.6,322.6 L967.0,322.9 L967.5,323.2 L967.9,323.4 L968.3,323.7 L968.7,324.0 L969.1,324.2 L969.6,324.5 L970.0,324.8 L970.4,325.1 L970.8,325.3 L971.2,325.6 L971.7,325.9 L972.1,326.1 L972.5,326.4 L972.9,326.7 L973.3,326.9 L973.8,327.2 L974.2,327.5 L974.6,327.8" fill="none" stroke="#e9dff3" stroke-width="2.6" stroke-linecap="round"/>
<path d="M866.0,288.0 L866.4,288.8 L866.8,289.3 L867.3,289.4 L867.8,289.1 L868.5,288.4 L869.1,287.8 L869.7,287.4 L870.1,287.5 L870.6,288.0 L870.9,288.8 L871.3,289.6 L871.7,290.2 L872.2,290.3 L872.8,289.9 L873.4,289.3 L874.0,288.6 L874.6,288.3 L875.1,288.3 L875.5,288.9 L875.9,289.7 L876.2,290.5 L876.6,291.0 L877.1,291.1 L877.7,290.7 L878.3,290.1 L878.9,289.5 L879.5,289.1 L880.0,289.2 L880.4,289.7 L880.8,290.5 L881.2,291.3 L881.6,291.8 L882.1,291.9 L882.6,291.6 L883.3,290.9 L883.9,290.3 L884.4,289.9 L884.9,290.0 L885.3,290.5 L885.7,291.3 L886.1,292.1 L886.5,292.7 L887.0,292.7 L887.6,292.4 L888.2,291.7 L888.8,291.1 L889.4,290.7 L889.9,290.8 L890.3,291.3 L890.7,292.1 L891.1,292.9 L891.5,293.4 L892.0,293.5 L892.5,293.1 L893.1,292.4 L893.7,291.8 L894.3,291.4 L894.8,291.4 L895.2,292.0 L895.6,292.7 L896.0,293.5 L896.5,294.0 L897.0,294.1 L897.5,293.7 L898.1,293.0 L898.7,292.4 L899.2,292.0 L899.7,292.0 L900.2,292.5 L900.6,293.3 L901.0,294.1 L901.5,294.6 L902.0,294.6 L902.5,294.2 L903.1,293.6 L903.7,292.9 L904.2,292.5 L904.7,292.6 L905.1,293.1 L905.6,293.9 L906.0,294.6 L906.4,295.1 L906.9,295.2 L907.5,294.8 L908.0,294.1 L908.6,293.5 L909.2,293.1 L909.7,293.2 L910.1,293.7 L910.5,294.5 L910.9,295.3 L911.3,295.8 L911.8,295.9 L912.4,295.5 L913.0,294.8 L913.6,294.2 L914.2,293.8 L914.7,293.9 L915.1,294.4 L915.5,295.2 L915.8,296.0 L916.2,296.6 L916.7,296.6 L917.3,296.3 L917.9,295.7 L918.6,295.0 L919.1,294.7 L919.6,294.8 L920.0,295.4 L920.4,296.2 L920.7,297.0 L921.0,297.6 L921.5,297.7 L922.1,297.4 L922.8,296.8 L923.5,296.3 L924.1,296.0 L924.6,296.2 L924.9,296.7 L925.2,297.6 L925.4,298.5 L925.7,299.0 L926.1,299.2 L926.8,299.0 L927.5,298.5 L928.2,298.0 L928.9,297.8 L929.4,298.0 L929.6,298.6 L929.8,299.5 L929.9,300.4 L930.1,301.0 L930.5,301.2 L931.2,301.1 L932.0,300.7 L932.8,300.3 L933.5,300.2 L933.9,300.4 L934.1,301.1 L934.1,302.0 L934.2,302.8 L934.3,303.5 L934.8,303.8 L935.4,303.7 L936.2,303.3 L937.1,303.0 L937.7,302.9 L938.1,303.2 L938.3,303.8 L938.3,304.7 L938.3,305.6 L938.5,306.2 L938.9,306.5 L939.6,306.4 L940.4,306.1 L941.2,305.7 L941.9,305.6 L942.3,305.9 L942.5,306.6 L942.5,307.4 L942.5,308.3 L942.7,309.0 L943.1,309.2 L943.8,309.1 L944.6,308.8 L945.4,308.4 L946.1,308.3 L946.5,308.5 L946.7,309.2 L946.8,310.1 L946.8,311.0 L947.0,311.6 L947.4,311.9 L948.1,311.7 L948.9,311.4 L949.7,311.0 L950.4,310.9 L950.8,311.2 L951.0,311.8 L951.0,312.7 L951.0,313.6 L951.2,314.2 L951.6,314.5 L952.3,314.4 L953.1,314.0 L953.9,313.7 L954.6,313.6 L955.0,313.8 L955.2,314.5 L955.2,315.4 L955.3,316.2 L955.4,316.9 L955.9,317.2 L956.5,317.1 L957.3,316.7 L958.2,316.3 L958.8,316.2 L959.3,316.5 L959.4,317.2 L959.5,318.0 L959.5,318.9 L959.7,319.6 L960.1,319.9 L960.7,319.7 L961.6,319.4 L962.4,319.0 L963.0,318.9 L963.5,319.2 L963.6,319.8 L963.7,320.7 L963.7,321.6 L963.9,322.3 L964.3,322.5 L965.0,322.4 L965.8,322.1 L966.6,321.7 L967.3,321.6 L967.7,321.9 L967.9,322.5 L967.9,323.4 L967.9,324.3 L968.1,325.0 L968.5,325.2 L969.2,325.1 L970.0,324.8 L970.8,324.4 L971.5,324.3 L971.9,324.6 L972.1,325.2 L972.1,326.1 L972.1,327.0 L972.3,327.7 L972.7,327.9 L973.4,327.8 L974.2,327.5 L975.0,327.1" fill="none" stroke="#8468bd" stroke-width="0.85"/>
<path d="M866.0,288.0 L866.6,287.4 L867.2,287.0 L867.7,287.1 L868.1,287.6 L868.5,288.4 L868.8,289.2 L869.3,289.8 L869.7,289.8 L870.3,289.5 L870.9,288.8 L871.5,288.2 L872.1,287.8 L872.6,287.9 L873.0,288.5 L873.4,289.3 L873.8,290.1 L874.2,290.6 L874.7,290.7 L875.2,290.3 L875.9,289.7 L876.5,289.0 L877.0,288.7 L877.5,288.8 L878.0,289.3 L878.3,290.1 L878.7,290.9 L879.1,291.4 L879.6,291.5 L880.2,291.1 L880.8,290.5 L881.4,289.9 L882.0,289.5 L882.5,289.6 L882.9,290.1 L883.3,290.9 L883.6,291.7 L884.1,292.2 L884.5,292.3 L885.1,292.0 L885.7,291.3 L886.3,290.7 L886.9,290.3 L887.4,290.4 L887.8,290.9 L888.2,291.7 L888.6,292.5 L889.0,293.0 L889.5,293.1 L890.1,292.8 L890.7,292.1 L891.3,291.4 L891.8,291.1 L892.3,291.1 L892.7,291.6 L893.1,292.4 L893.5,293.2 L894.0,293.7 L894.5,293.8 L895.0,293.4 L895.6,292.7 L896.2,292.1 L896.7,291.7 L897.2,291.7 L897.7,292.2 L898.1,293.0 L898.5,293.8 L899.0,294.3 L899.5,294.4 L900.0,294.0 L900.6,293.3 L901.2,292.6 L901.7,292.2 L902.2,292.3 L902.7,292.8 L903.1,293.6 L903.5,294.4 L903.9,294.9 L904.4,294.9 L905.0,294.5 L905.6,293.9 L906.1,293.2 L906.7,292.8 L907.2,292.8 L907.6,293.4 L908.0,294.1 L908.4,294.9 L908.9,295.5 L909.4,295.5 L909.9,295.1 L910.5,294.5 L911.1,293.8 L911.7,293.4 L912.2,293.5 L912.6,294.0 L913.0,294.8 L913.4,295.6 L913.8,296.1 L914.3,296.2 L914.8,295.9 L915.5,295.2 L916.1,294.6 L916.7,294.2 L917.1,294.3 L917.6,294.8 L917.9,295.7 L918.3,296.5 L918.7,297.0 L919.1,297.1 L919.7,296.8 L920.4,296.2 L921.0,295.6 L921.6,295.3 L922.1,295.4 L922.5,296.0 L922.8,296.8 L923.1,297.7 L923.4,298.2 L923.8,298.4 L924.4,298.1 L925.2,297.6 L925.9,297.1 L926.5,296.8 L927.0,297.0 L927.3,297.6 L927.5,298.5 L927.7,299.4 L927.9,300.0 L928.4,300.2 L929.0,300.0 L929.8,299.5 L930.5,299.1 L931.2,298.9 L931.7,299.2 L931.9,299.8 L932.0,300.7 L932.1,301.6 L932.2,302.2 L932.7,302.5 L933.3,302.3 L934.1,302.0 L935.0,301.6 L935.6,301.5 L936.0,301.8 L936.2,302.4 L936.2,303.3 L936.2,304.2 L936.4,304.8 L936.8,305.1 L937.5,305.0 L938.3,304.7 L939.1,304.4 L939.8,304.3 L940.2,304.5 L940.4,305.2 L940.4,306.1 L940.4,307.0 L940.6,307.6 L941.0,307.9 L941.7,307.8 L942.5,307.4 L943.3,307.1 L944.0,307.0 L944.4,307.2 L944.6,307.9 L944.6,308.8 L944.7,309.7 L944.9,310.3 L945.3,310.6 L945.9,310.4 L946.8,310.1 L947.6,309.7 L948.2,309.6 L948.7,309.8 L948.8,310.5 L948.9,311.4 L948.9,312.3 L949.1,312.9 L949.5,313.2 L950.2,313.1 L951.0,312.7 L951.8,312.3 L952.5,312.2 L952.9,312.5 L953.1,313.1 L953.1,314.0 L953.2,314.9 L953.3,315.6 L953.8,315.8 L954.4,315.7 L955.2,315.4 L956.1,315.0 L956.7,314.9 L957.1,315.2 L957.3,315.8 L957.3,316.7 L957.4,317.6 L957.6,318.2 L958.0,318.5 L958.6,318.4 L959.5,318.0 L960.3,317.7 L960.9,317.6 L961.4,317.8 L961.5,318.5 L961.6,319.4 L961.6,320.3 L961.8,320.9 L962.2,321.2 L962.9,321.1 L963.7,320.7 L964.5,320.4 L965.2,320.3 L965.6,320.5 L965.7,321.2 L965.8,322.1 L965.8,323.0 L966.0,323.6 L966.4,323.9 L967.1,323.8 L967.9,323.4 L968.7,323.1 L969.4,323.0 L969.8,323.2 L970.0,323.9 L970.0,324.8 L970.0,325.7 L970.2,326.3 L970.6,326.6 L971.3,326.5 L972.1,326.1 L972.9,325.8 L973.6,325.7 L974.0,325.9 L974.2,326.6 L974.2,327.5 L974.2,328.4" fill="none" stroke="#8468bd" stroke-width="0.85"/>
<path d="M866.0,318.0 L866.5,318.2 L866.9,318.3 L867.4,318.5 L867.9,318.7 L868.3,318.9 L868.8,319.0 L869.3,319.2 L869.8,319.4 L870.2,319.6 L870.7,319.7 L871.2,319.9 L871.6,320.1 L872.1,320.2 L872.6,320.4 L873.0,320.6 L873.5,320.8 L874.0,320.9 L874.4,321.1 L874.9,321.3 L875.4,321.5 L875.9,321.6 L876.3,321.8 L876.8,322.0 L877.3,322.1 L877.7,322.3 L878.2,322.5 L878.7,322.7 L879.1,322.8 L879.6,323.0 L880.1,323.2 L880.5,323.3 L881.0,323.5 L881.5,323.7 L882.0,323.9 L882.4,324.0 L882.9,324.2 L883.4,324.4 L883.8,324.6 L884.3,324.7 L884.8,324.9 L885.2,325.1 L885.7,325.3 L886.2,325.4 L886.6,325.6 L887.1,325.8 L887.6,326.0 L888.0,326.1 L888.5,326.3 L889.0,326.5 L889.4,326.7 L889.9,326.9 L890.4,327.0 L890.8,327.2 L891.3,327.4 L891.8,327.6 L892.3,327.7 L892.7,327.9 L893.2,328.1 L893.6,328.3 L894.1,328.5 L894.6,328.6 L895.0,328.8 L895.5,329.0 L896.0,329.2 L896.4,329.4 L896.9,329.6 L897.4,329.7 L897.8,329.9 L898.3,330.1 L898.8,330.3 L899.2,330.5 L899.7,330.7 L900.2,330.9 L900.6,331.1 L901.1,331.3 L901.5,331.4 L902.0,331.6 L902.5,331.8 L902.9,332.0 L903.4,332.2 L903.9,332.4 L904.3,332.6 L904.8,332.8 L905.2,333.0 L905.7,333.2 L906.2,333.3 L906.6,333.5 L907.1,333.7 L907.5,333.9 L908.0,334.1 L908.5,334.3 L908.9,334.5 L909.4,334.7 L909.8,334.9 L910.3,335.1 L910.8,335.3 L911.2,335.5 L911.7,335.7 L912.1,335.9 L912.6,336.1 L913.0,336.3 L913.5,336.6 L913.9,336.8 L914.4,337.0 L914.9,337.2 L915.3,337.4 L915.8,337.6 L916.2,337.8 L916.7,338.0 L917.1,338.3 L917.6,338.5 L918.0,338.7 L918.5,338.9 L918.9,339.1 L919.4,339.4 L919.8,339.6 L920.2,339.8 L920.7,340.0 L921.1,340.3 L921.6,340.5 L922.0,340.7 L922.5,341.0 L922.9,341.2 L923.3,341.4 L923.8,341.7 L924.2,341.9 L924.7,342.2 L925.1,342.4 L925.5,342.7 L926.0,342.9 L926.4,343.2 L926.8,343.4 L927.2,343.7 L927.7,343.9 L928.1,344.2 L928.5,344.5 L928.9,344.7 L929.4,345.0 L929.8,345.3 L930.2,345.5 L930.6,345.8 L931.1,346.1 L931.5,346.3 L931.9,346.6 L932.3,346.9 L932.8,347.1 L933.2,347.4 L933.6,347.7 L934.0,347.9 L934.4,348.2 L934.9,348.5 L935.3,348.7 L935.7,349.0 L936.1,349.3 L936.6,349.5 L937.0,349.8 L937.4,350.1 L937.8,350.3 L938.3,350.6 L938.7,350.9 L939.1,351.1 L939.5,351.4 L940.0,351.6 L940.4,351.9 L940.8,352.1 L941.3,352.4 L941.7,352.7 L942.1,352.9 L942.6,353.1 L943.0,353.4 L943.4,353.6 L943.9,353.9 L944.3,354.1 L944.7,354.4 L945.2,354.6 L945.6,354.8 L946.1,355.0 L946.5,355.3 L947.0,355.5 L947.4,355.7 L947.9,355.9 L948.3,356.1 L948.8,356.3 L949.3,356.5 L949.7,356.7 L950.2,356.9 L950.7,357.0 L951.1,357.2 L951.6,357.3 L952.1,357.5 L952.6,357.7 L953.0,357.8 L953.5,357.9 L954.0,358.1 L954.5,358.2 L955.0,358.3 L955.5,358.4 L955.9,358.6 L956.4,358.7 L956.9,358.8 L957.4,358.9 L957.9,359.0 L958.4,359.1 L958.9,359.2 L959.4,359.2 L959.9,359.3 L960.4,359.4 L960.9,359.5 L961.3,359.6 L961.8,359.6 L962.3,359.7 L962.8,359.8 L963.3,359.8 L963.8,359.9 L964.3,360.0 L964.8,360.0 L965.3,360.1 L965.8,360.1 L966.3,360.2 L966.8,360.2 L967.3,360.3 L967.8,360.3 L968.3,360.4 L968.8,360.4 L969.3,360.5 L969.8,360.5 L970.3,360.6 L970.8,360.6 L971.3,360.7 L971.8,360.7 L972.3,360.8 L972.8,360.8 L973.3,360.9 L973.8,360.9 L974.3,361.0 L974.8,361.1" fill="none" stroke="#e9dff3" stroke-width="2.6" stroke-linecap="round"/>
<path d="M866.0,318.0 L866.2,318.9 L866.5,319.5 L867.0,319.6 L867.6,319.4 L868.3,318.9 L869.1,318.4 L869.7,318.1 L870.2,318.3 L870.5,318.9 L870.7,319.7 L870.9,320.6 L871.2,321.2 L871.7,321.4 L872.3,321.1 L873.0,320.6 L873.8,320.1 L874.4,319.8 L874.9,320.0 L875.2,320.6 L875.4,321.5 L875.6,322.3 L875.9,322.9 L876.4,323.1 L877.0,322.8 L877.7,322.3 L878.5,321.8 L879.1,321.5 L879.6,321.7 L879.9,322.3 L880.1,323.2 L880.3,324.0 L880.6,324.6 L881.1,324.8 L881.7,324.6 L882.4,324.0 L883.1,323.5 L883.8,323.3 L884.2,323.5 L884.6,324.1 L884.8,324.9 L885.0,325.8 L885.3,326.4 L885.8,326.6 L886.4,326.3 L887.1,325.8 L887.8,325.3 L888.5,325.0 L888.9,325.2 L889.2,325.8 L889.4,326.7 L889.7,327.5 L890.0,328.1 L890.4,328.3 L891.1,328.1 L891.8,327.6 L892.5,327.1 L893.1,326.8 L893.6,327.0 L893.9,327.6 L894.1,328.5 L894.3,329.3 L894.6,329.9 L895.1,330.1 L895.7,329.9 L896.4,329.4 L897.2,328.9 L897.8,328.6 L898.3,328.8 L898.6,329.4 L898.8,330.3 L898.9,331.2 L899.2,331.8 L899.7,332.0 L900.3,331.7 L901.1,331.3 L901.8,330.8 L902.5,330.5 L902.9,330.7 L903.2,331.3 L903.4,332.2 L903.6,333.1 L903.9,333.7 L904.3,333.9 L905.0,333.6 L905.7,333.2 L906.4,332.7 L907.1,332.4 L907.5,332.6 L907.8,333.3 L908.0,334.1 L908.2,335.0 L908.5,335.6 L908.9,335.8 L909.6,335.6 L910.3,335.1 L911.1,334.6 L911.7,334.4 L912.2,334.6 L912.4,335.3 L912.6,336.1 L912.7,337.0 L913.0,337.6 L913.5,337.8 L914.1,337.6 L914.9,337.2 L915.6,336.7 L916.3,336.5 L916.7,336.8 L917.0,337.4 L917.1,338.3 L917.2,339.1 L917.5,339.8 L917.9,340.0 L918.6,339.8 L919.4,339.4 L920.1,338.9 L920.8,338.7 L921.2,339.0 L921.5,339.6 L921.6,340.5 L921.7,341.4 L921.9,342.0 L922.3,342.2 L923.0,342.1 L923.8,341.7 L924.6,341.3 L925.3,341.1 L925.7,341.4 L925.9,342.0 L926.0,342.9 L926.0,343.8 L926.2,344.4 L926.6,344.7 L927.3,344.6 L928.1,344.2 L928.9,343.8 L929.6,343.7 L930.0,344.0 L930.2,344.6 L930.2,345.5 L930.3,346.4 L930.4,347.1 L930.9,347.3 L931.5,347.2 L932.3,346.9 L933.2,346.5 L933.8,346.4 L934.2,346.7 L934.4,347.3 L934.4,348.2 L934.5,349.1 L934.7,349.7 L935.1,350.0 L935.7,349.9 L936.6,349.5 L937.4,349.2 L938.0,349.1 L938.5,349.3 L938.6,350.0 L938.7,350.9 L938.7,351.7 L938.9,352.4 L939.4,352.7 L940.0,352.5 L940.8,352.1 L941.6,351.8 L942.3,351.6 L942.7,351.9 L942.9,352.5 L943.0,353.4 L943.1,354.3 L943.3,354.9 L943.7,355.2 L944.4,355.0 L945.2,354.6 L946.0,354.1 L946.6,354.0 L947.1,354.2 L947.3,354.8 L947.4,355.7 L947.6,356.6 L947.9,357.2 L948.3,357.4 L949.0,357.2 L949.7,356.7 L950.4,356.2 L951.0,355.9 L951.5,356.1 L951.8,356.6 L952.1,357.5 L952.3,358.4 L952.7,359.0 L953.2,359.1 L953.8,358.8 L954.5,358.2 L955.2,357.6 L955.7,357.3 L956.2,357.4 L956.6,357.9 L956.9,358.8 L957.3,359.6 L957.7,360.1 L958.2,360.2 L958.8,359.9 L959.4,359.2 L960.0,358.6 L960.6,358.2 L961.0,358.3 L961.5,358.8 L961.8,359.6 L962.2,360.4 L962.7,360.9 L963.2,361.0 L963.7,360.6 L964.3,360.0 L964.9,359.3 L965.4,358.9 L965.9,358.9 L966.4,359.5 L966.8,360.2 L967.2,361.0 L967.7,361.5 L968.2,361.6 L968.7,361.2 L969.3,360.5 L969.9,359.8 L970.4,359.4 L970.9,359.4 L971.4,359.9 L971.8,360.7 L972.2,361.5 L972.7,362.0 L973.1,362.1 L973.7,361.7 L974.3,361.0 L974.9,360.3" fill="none" stroke="#8468bd" stroke-width="0.85"/>
<path d="M866.0,318.0 L866.7,317.5 L867.4,317.2 L867.8,317.4 L868.1,318.0 L868.3,318.9 L868.6,319.7 L868.9,320.3 L869.3,320.5 L870.0,320.2 L870.7,319.7 L871.4,319.2 L872.0,319.0 L872.5,319.1 L872.8,319.7 L873.0,320.6 L873.3,321.5 L873.6,322.1 L874.0,322.2 L874.7,322.0 L875.4,321.5 L876.1,320.9 L876.7,320.7 L877.2,320.9 L877.5,321.5 L877.7,322.3 L877.9,323.2 L878.3,323.8 L878.7,323.9 L879.4,323.7 L880.1,323.2 L880.8,322.7 L881.4,322.4 L881.9,322.6 L882.2,323.2 L882.4,324.0 L882.6,324.9 L882.9,325.5 L883.4,325.7 L884.0,325.4 L884.8,324.9 L885.5,324.4 L886.1,324.2 L886.6,324.3 L886.9,324.9 L887.1,325.8 L887.3,326.7 L887.6,327.3 L888.1,327.4 L888.7,327.2 L889.4,326.7 L890.2,326.2 L890.8,325.9 L891.3,326.1 L891.6,326.7 L891.8,327.6 L892.0,328.4 L892.3,329.0 L892.8,329.2 L893.4,329.0 L894.1,328.5 L894.8,328.0 L895.5,327.7 L896.0,327.9 L896.2,328.5 L896.4,329.4 L896.6,330.2 L896.9,330.9 L897.4,331.0 L898.0,330.8 L898.8,330.3 L899.5,329.8 L900.1,329.6 L900.6,329.8 L900.9,330.4 L901.1,331.3 L901.3,332.1 L901.6,332.7 L902.0,332.9 L902.7,332.7 L903.4,332.2 L904.1,331.7 L904.8,331.5 L905.2,331.7 L905.5,332.3 L905.7,333.2 L905.9,334.0 L906.2,334.6 L906.6,334.8 L907.3,334.6 L908.0,334.1 L908.8,333.6 L909.4,333.4 L909.9,333.6 L910.1,334.2 L910.3,335.1 L910.5,336.0 L910.7,336.6 L911.2,336.8 L911.8,336.6 L912.6,336.1 L913.3,335.7 L914.0,335.5 L914.4,335.7 L914.7,336.3 L914.9,337.2 L915.0,338.1 L915.2,338.7 L915.7,338.9 L916.3,338.7 L917.1,338.3 L917.9,337.8 L918.5,337.6 L919.0,337.9 L919.2,338.5 L919.4,339.4 L919.5,340.2 L919.7,340.9 L920.2,341.1 L920.8,340.9 L921.6,340.5 L922.4,340.1 L923.0,339.9 L923.5,340.2 L923.7,340.8 L923.8,341.7 L923.9,342.6 L924.1,343.2 L924.5,343.4 L925.2,343.3 L926.0,342.9 L926.8,342.5 L927.4,342.4 L927.9,342.7 L928.1,343.3 L928.1,344.2 L928.1,345.1 L928.3,345.7 L928.7,346.0 L929.4,345.9 L930.2,345.5 L931.0,345.2 L931.7,345.1 L932.1,345.3 L932.3,346.0 L932.3,346.9 L932.4,347.7 L932.5,348.4 L933.0,348.7 L933.6,348.6 L934.4,348.2 L935.3,347.8 L935.9,347.7 L936.3,348.0 L936.5,348.6 L936.6,349.5 L936.6,350.4 L936.8,351.1 L937.2,351.3 L937.9,351.2 L938.7,350.9 L939.5,350.5 L940.1,350.4 L940.6,350.6 L940.8,351.3 L940.8,352.1 L940.9,353.0 L941.1,353.7 L941.5,353.9 L942.2,353.8 L943.0,353.4 L943.8,353.0 L944.4,352.8 L944.9,353.1 L945.1,353.7 L945.2,354.6 L945.3,355.5 L945.5,356.1 L946.0,356.3 L946.7,356.1 L947.4,355.7 L948.2,355.2 L948.8,355.0 L949.3,355.2 L949.6,355.8 L949.7,356.7 L949.9,357.6 L950.3,358.2 L950.8,358.3 L951.4,358.0 L952.1,357.5 L952.8,357.0 L953.4,356.7 L953.8,356.8 L954.2,357.4 L954.5,358.2 L954.8,359.0 L955.2,359.6 L955.7,359.7 L956.3,359.4 L956.9,358.8 L957.6,358.1 L958.1,357.8 L958.6,357.9 L959.0,358.4 L959.4,359.2 L959.7,360.0 L960.2,360.6 L960.7,360.7 L961.2,360.3 L961.8,359.6 L962.4,359.0 L963.0,358.6 L963.5,358.7 L963.9,359.2 L964.3,360.0 L964.7,360.7 L965.2,361.3 L965.7,361.3 L966.2,360.9 L966.8,360.2 L967.4,359.6 L967.9,359.2 L968.4,359.2 L968.9,359.7 L969.3,360.5 L969.7,361.3 L970.2,361.8 L970.7,361.8 L971.2,361.4 L971.8,360.7 L972.4,360.0 L972.9,359.6 L973.4,359.7 L973.9,360.2 L974.3,361.0 L974.7,361.8" fill="none" stroke="#8468bd" stroke-width="0.85"/>
<path d="M866.0,355.0 L866.4,354.8 L866.9,354.6 L867.3,354.3 L867.8,354.1 L868.2,353.9 L868.7,353.7 L869.1,353.4 L869.6,353.2 L870.0,353.0 L870.5,352.8 L870.9,352.5 L871.4,352.3 L871.8,352.1 L872.3,351.9 L872.7,351.6 L873.1,351.4 L873.6,351.2 L874.0,350.9 L874.5,350.7 L874.9,350.5 L875.4,350.3 L875.8,350.1 L876.3,349.8 L876.7,349.6 L877.2,349.4 L877.6,349.2 L878.1,349.0 L878.5,348.7 L879.0,348.5 L879.4,348.3 L879.9,348.1 L880.3,347.9 L880.8,347.7 L881.2,347.5 L881.7,347.3 L882.2,347.1 L882.6,346.9 L883.1,346.6 L883.5,346.4 L884.0,346.2 L884.4,346.0 L884.9,345.8 L885.4,345.7 L885.8,345.5 L886.3,345.3 L886.7,345.1 L887.2,344.9 L887.7,344.7 L888.1,344.5 L888.6,344.3 L889.1,344.2 L889.5,344.0 L890.0,343.8 L890.5,343.7 L891.0,343.5 L891.4,343.3 L891.9,343.2 L892.4,343.0 L892.8,342.9 L893.3,342.7 L893.8,342.6 L894.3,342.4 L894.8,342.3 L895.2,342.1 L895.7,342.0 L896.2,341.8 L896.7,341.7 L897.2,341.6 L897.6,341.4 L898.1,341.3 L898.6,341.2 L899.1,341.0 L899.6,340.9 L900.0,340.8 L900.5,340.6 L901.0,340.5 L901.5,340.4 L902.0,340.2 L902.5,340.1 L902.9,340.0 L903.4,339.8 L903.9,339.7 L904.4,339.6 L904.9,339.5 L905.4,339.3 L905.8,339.2 L906.3,339.1 L906.8,338.9 L907.3,338.8 L907.8,338.7 L908.3,338.6 L908.7,338.4 L909.2,338.3 L909.7,338.2 L910.2,338.0 L910.7,337.9 L911.2,337.8 L911.6,337.6 L912.1,337.5 L912.6,337.4 L913.1,337.2 L913.6,337.1 L914.0,336.9 L914.5,336.8 L915.0,336.7 L915.5,336.5 L916.0,336.4 L916.4,336.2 L916.9,336.1 L917.4,335.9 L917.9,335.8 L918.3,335.6 L918.8,335.4 L919.3,335.3 L919.7,335.1 L920.2,334.9 L920.7,334.8 L921.2,334.6 L921.6,334.4 L922.1,334.3 L922.6,334.1 L923.0,333.9 L923.5,333.7 L924.0,333.5 L924.4,333.3 L924.9,333.2 L925.4,333.0 L925.8,332.8 L926.3,332.6 L926.7,332.4 L927.2,332.2 L927.7,332.0 L928.1,331.8 L928.6,331.6 L929.0,331.4 L929.5,331.2 L929.9,331.0 L930.4,330.8 L930.9,330.6 L931.3,330.4 L931.8,330.2 L932.2,330.0 L932.7,329.7 L933.1,329.5 L933.6,329.3 L934.0,329.1 L934.5,328.9 L934.9,328.7 L935.4,328.5 L935.8,328.2 L936.3,328.0 L936.7,327.8 L937.2,327.6 L937.6,327.4 L938.1,327.1 L938.5,326.9 L939.0,326.7 L939.4,326.5 L939.9,326.2 L940.3,326.0 L940.7,325.8 L941.2,325.5 L941.6,325.3 L942.1,325.1 L942.5,324.8 L943.0,324.6 L943.4,324.4 L943.8,324.1 L944.3,323.9 L944.7,323.7 L945.2,323.4 L945.6,323.2 L946.0,323.0 L946.5,322.7 L946.9,322.5 L947.4,322.2 L947.8,322.0 L948.2,321.8 L948.7,321.5 L949.1,321.3 L949.6,321.0 L950.0,320.8 L950.4,320.6 L950.9,320.3 L951.3,320.1 L951.7,319.8 L952.2,319.6 L952.6,319.3 L953.0,319.1 L953.5,318.8 L953.9,318.5 L954.3,318.3 L954.8,318.0 L955.2,317.8 L955.6,317.5 L956.0,317.3 L956.5,317.0 L956.9,316.7 L957.3,316.5 L957.7,316.2 L958.2,315.9 L958.6,315.7 L959.0,315.4 L959.4,315.1 L959.9,314.9 L960.3,314.6 L960.7,314.3 L961.1,314.1 L961.5,313.8 L962.0,313.5 L962.4,313.3 L962.8,313.0 L963.2,312.7 L963.6,312.4 L964.1,312.2 L964.5,311.9 L964.9,311.6 L965.3,311.4 L965.7,311.1 L966.2,310.8 L966.6,310.5 L967.0,310.3 L967.4,310.0 L967.8,309.7 L968.2,309.4 L968.7,309.2 L969.1,308.9 L969.5,308.6 L969.9,308.3 L970.3,308.1 L970.7,307.8 L971.2,307.5 L971.6,307.2 L972.0,307.0 L972.4,306.7 L972.8,306.4 L973.3,306.1 L973.7,305.9 L974.1,305.6 L974.5,305.3 L974.9,305.0" fill="none" stroke="#e9dff3" stroke-width="2.6" stroke-linecap="round"/>
<path d="M866.0,355.0 L866.8,355.4 L867.4,355.6 L867.9,355.4 L868.1,354.8 L868.2,353.9 L868.4,353.0 L868.6,352.4 L869.0,352.2 L869.7,352.3 L870.5,352.8 L871.2,353.2 L871.9,353.4 L872.3,353.1 L872.6,352.5 L872.7,351.6 L872.8,350.7 L873.1,350.1 L873.5,349.9 L874.2,350.1 L874.9,350.5 L875.7,350.9 L876.4,351.1 L876.8,350.9 L877.0,350.3 L877.2,349.4 L877.3,348.5 L877.6,347.9 L878.0,347.7 L878.7,347.9 L879.4,348.3 L880.2,348.8 L880.8,349.0 L881.3,348.8 L881.5,348.1 L881.7,347.3 L881.8,346.4 L882.1,345.8 L882.6,345.6 L883.2,345.8 L884.0,346.2 L884.7,346.7 L885.4,346.9 L885.8,346.8 L886.1,346.1 L886.3,345.3 L886.5,344.4 L886.8,343.8 L887.2,343.6 L887.9,343.8 L888.6,344.3 L889.3,344.9 L889.9,345.1 L890.4,344.9 L890.7,344.4 L891.0,343.5 L891.2,342.6 L891.5,342.0 L892.0,341.9 L892.6,342.2 L893.3,342.7 L894.0,343.3 L894.6,343.5 L895.1,343.4 L895.5,342.8 L895.7,342.0 L896.0,341.1 L896.4,340.6 L896.8,340.4 L897.4,340.7 L898.1,341.3 L898.8,341.9 L899.4,342.2 L899.9,342.0 L900.2,341.5 L900.5,340.6 L900.8,339.8 L901.2,339.2 L901.7,339.1 L902.3,339.4 L902.9,340.0 L903.6,340.6 L904.2,340.9 L904.7,340.7 L905.1,340.2 L905.4,339.3 L905.7,338.5 L906.0,337.9 L906.5,337.8 L907.1,338.1 L907.8,338.7 L908.4,339.3 L909.1,339.6 L909.5,339.4 L909.9,338.9 L910.2,338.0 L910.5,337.2 L910.8,336.6 L911.3,336.5 L911.9,336.8 L912.6,337.4 L913.3,337.9 L913.9,338.2 L914.4,338.1 L914.7,337.5 L915.0,336.7 L915.3,335.8 L915.6,335.2 L916.1,335.1 L916.7,335.4 L917.4,335.9 L918.1,336.5 L918.7,336.7 L919.2,336.6 L919.5,336.0 L919.7,335.1 L920.0,334.2 L920.3,333.7 L920.8,333.5 L921.4,333.7 L922.1,334.3 L922.8,334.8 L923.5,335.0 L923.9,334.8 L924.2,334.2 L924.4,333.3 L924.6,332.5 L924.9,331.9 L925.4,331.7 L926.0,331.9 L926.7,332.4 L927.5,332.9 L928.1,333.1 L928.6,332.9 L928.9,332.3 L929.0,331.4 L929.2,330.5 L929.5,329.9 L929.9,329.7 L930.6,329.9 L931.3,330.4 L932.1,330.8 L932.7,331.0 L933.2,330.8 L933.4,330.2 L933.6,329.3 L933.7,328.4 L934.0,327.8 L934.4,327.6 L935.1,327.8 L935.8,328.2 L936.6,328.7 L937.3,328.9 L937.7,328.6 L938.0,328.0 L938.1,327.1 L938.2,326.2 L938.4,325.6 L938.9,325.4 L939.5,325.6 L940.3,326.0 L941.1,326.4 L941.7,326.6 L942.2,326.4 L942.4,325.7 L942.5,324.8 L942.6,324.0 L942.8,323.3 L943.3,323.1 L943.9,323.3 L944.7,323.7 L945.5,324.1 L946.2,324.2 L946.6,324.0 L946.8,323.4 L946.9,322.5 L947.0,321.6 L947.2,321.0 L947.7,320.7 L948.3,320.9 L949.1,321.3 L949.9,321.7 L950.6,321.8 L951.0,321.6 L951.2,320.9 L951.3,320.1 L951.4,319.2 L951.6,318.5 L952.0,318.3 L952.7,318.4 L953.5,318.8 L954.3,319.2 L954.9,319.3 L955.4,319.1 L955.6,318.4 L955.6,317.5 L955.6,316.6 L955.8,316.0 L956.3,315.7 L956.9,315.8 L957.7,316.2 L958.5,316.6 L959.2,316.7 L959.6,316.4 L959.8,315.8 L959.9,314.9 L959.9,314.0 L960.1,313.3 L960.5,313.1 L961.1,313.2 L962.0,313.5 L962.8,313.9 L963.4,314.0 L963.9,313.7 L964.0,313.1 L964.1,312.2 L964.1,311.3 L964.2,310.6 L964.7,310.4 L965.3,310.5 L966.2,310.8 L967.0,311.2 L967.6,311.3 L968.1,311.0 L968.2,310.3 L968.2,309.4 L968.3,308.5 L968.4,307.9 L968.8,307.6 L969.5,307.7 L970.3,308.1 L971.2,308.4 L971.8,308.5 L972.2,308.2 L972.4,307.6 L972.4,306.7 L972.4,305.8 L972.6,305.1 L973.0,304.9 L973.7,305.0 L974.5,305.3 L975.3,305.7" fill="none" stroke="#8468bd" stroke-width="0.85"/>
<path d="M866.0,355.0 L866.1,354.1 L866.4,353.5 L866.8,353.3 L867.5,353.5 L868.2,353.9 L869.0,354.3 L869.7,354.5 L870.1,354.3 L870.4,353.6 L870.5,352.8 L870.6,351.9 L870.8,351.2 L871.3,351.0 L871.9,351.2 L872.7,351.6 L873.5,352.1 L874.1,352.2 L874.6,352.0 L874.8,351.4 L874.9,350.5 L875.0,349.6 L875.3,349.0 L875.8,348.8 L876.4,349.0 L877.2,349.4 L877.9,349.8 L878.6,350.0 L879.0,349.8 L879.3,349.2 L879.4,348.3 L879.6,347.4 L879.8,346.8 L880.3,346.6 L880.9,346.8 L881.7,347.3 L882.5,347.7 L883.1,347.9 L883.5,347.7 L883.8,347.1 L884.0,346.2 L884.2,345.4 L884.4,344.8 L884.9,344.6 L885.5,344.8 L886.3,345.3 L887.0,345.8 L887.6,346.0 L888.1,345.8 L888.4,345.2 L888.6,344.3 L888.8,343.5 L889.1,342.9 L889.6,342.7 L890.2,343.0 L891.0,343.5 L891.7,344.0 L892.3,344.3 L892.7,344.1 L893.1,343.6 L893.3,342.7 L893.6,341.9 L893.9,341.3 L894.4,341.1 L895.0,341.4 L895.7,342.0 L896.4,342.5 L897.0,342.8 L897.5,342.7 L897.8,342.1 L898.1,341.3 L898.4,340.4 L898.8,339.9 L899.3,339.7 L899.9,340.0 L900.5,340.6 L901.2,341.2 L901.8,341.5 L902.3,341.4 L902.7,340.8 L902.9,340.0 L903.2,339.1 L903.6,338.6 L904.1,338.4 L904.7,338.8 L905.4,339.3 L906.0,339.9 L906.6,340.2 L907.1,340.1 L907.5,339.5 L907.8,338.7 L908.1,337.9 L908.4,337.3 L908.9,337.2 L909.5,337.5 L910.2,338.0 L910.9,338.6 L911.5,338.9 L912.0,338.8 L912.3,338.2 L912.6,337.4 L912.9,336.5 L913.2,335.9 L913.7,335.8 L914.3,336.1 L915.0,336.7 L915.7,337.2 L916.3,337.5 L916.8,337.3 L917.1,336.8 L917.4,335.9 L917.6,335.1 L918.0,334.5 L918.4,334.3 L919.0,334.6 L919.7,335.1 L920.5,335.6 L921.1,335.9 L921.6,335.7 L921.9,335.1 L922.1,334.3 L922.3,333.4 L922.6,332.8 L923.1,332.6 L923.7,332.8 L924.4,333.3 L925.2,333.8 L925.8,334.1 L926.3,333.9 L926.6,333.3 L926.7,332.4 L926.9,331.5 L927.2,330.9 L927.6,330.7 L928.3,330.9 L929.0,331.4 L929.8,331.9 L930.4,332.1 L930.9,331.9 L931.2,331.3 L931.3,330.4 L931.5,329.5 L931.7,328.9 L932.2,328.7 L932.8,328.9 L933.6,329.3 L934.4,329.8 L935.0,330.0 L935.4,329.7 L935.7,329.1 L935.8,328.2 L936.0,327.4 L936.2,326.7 L936.6,326.5 L937.3,326.7 L938.1,327.1 L938.8,327.6 L939.5,327.7 L940.0,327.5 L940.2,326.9 L940.3,326.0 L940.4,325.1 L940.6,324.5 L941.1,324.3 L941.7,324.4 L942.5,324.8 L943.3,325.3 L944.0,325.4 L944.4,325.2 L944.6,324.6 L944.7,323.7 L944.8,322.8 L945.0,322.2 L945.5,321.9 L946.1,322.1 L946.9,322.5 L947.7,322.9 L948.4,323.0 L948.8,322.8 L949.0,322.2 L949.1,321.3 L949.2,320.4 L949.4,319.8 L949.8,319.5 L950.5,319.7 L951.3,320.1 L952.1,320.4 L952.8,320.6 L953.2,320.3 L953.4,319.7 L953.5,318.8 L953.5,317.9 L953.7,317.3 L954.1,317.0 L954.8,317.1 L955.6,317.5 L956.4,317.9 L957.1,318.0 L957.5,317.7 L957.7,317.1 L957.7,316.2 L957.8,315.3 L958.0,314.7 L958.4,314.4 L959.0,314.5 L959.9,314.9 L960.7,315.2 L961.3,315.3 L961.8,315.1 L961.9,314.4 L962.0,313.5 L962.0,312.6 L962.2,312.0 L962.6,311.7 L963.2,311.8 L964.1,312.2 L964.9,312.5 L965.5,312.6 L966.0,312.4 L966.1,311.7 L966.2,310.8 L966.2,309.9 L966.3,309.3 L966.8,309.0 L967.4,309.1 L968.2,309.4 L969.1,309.8 L969.7,309.9 L970.1,309.6 L970.3,308.9 L970.3,308.1 L970.3,307.2 L970.5,306.5 L970.9,306.2 L971.6,306.3 L972.4,306.7 L973.2,307.0 L973.9,307.1 L974.3,306.9 L974.5,306.2 L974.5,305.3 L974.5,304.4" fill="none" stroke="#8468bd" stroke-width="0.85"/>
<path d="M866.0,362.2 L866.5,362.2 L867.0,362.2 L867.5,362.3 L868.0,362.3 L868.5,362.3 L869.0,362.3 L869.5,362.3 L870.0,362.3 L870.5,362.4 L871.0,362.4 L871.5,362.4 L872.0,362.4 L872.5,362.4 L873.0,362.4 L873.5,362.5 L874.0,362.5 L874.5,362.5 L875.0,362.5 L875.5,362.5 L876.0,362.5 L876.5,362.6 L877.0,362.6 L877.5,362.6 L878.0,362.6 L878.5,362.6 L879.0,362.6 L879.5,362.7 L880.0,362.7 L880.5,362.7 L881.0,362.7 L881.5,362.7 L882.0,362.7 L882.5,362.8 L883.0,362.8 L883.5,362.8 L884.0,362.8 L884.5,362.8 L885.0,362.8 L885.5,362.9 L886.0,362.9 L886.5,362.9 L887.0,362.9 L887.5,362.9 L888.0,362.9 L888.5,363.0 L889.0,363.0 L889.5,363.0 L890.0,363.0 L890.5,363.0 L891.0,363.0 L891.5,363.1 L892.0,363.1 L892.5,363.1 L893.0,363.1 L893.5,363.1 L894.0,363.2 L894.5,363.2 L895.0,363.2 L895.5,363.2 L896.0,363.2 L896.5,363.2 L897.0,363.3 L897.5,363.3 L898.0,363.3 L898.5,363.3 L899.0,363.3 L899.5,363.4 L900.0,363.4 L900.5,363.4 L901.0,363.4 L901.5,363.4 L902.0,363.5 L902.5,363.5 L903.0,363.5 L903.5,363.5 L904.0,363.5 L904.5,363.6 L905.0,363.6 L905.5,363.6 L906.0,363.6 L906.5,363.6 L907.0,363.7 L907.5,363.7 L908.0,363.7 L908.5,363.7 L909.0,363.7 L909.5,363.8 L910.0,363.8 L910.5,363.8 L911.0,363.8 L911.5,363.9 L912.0,363.9 L912.5,363.9 L913.0,363.9 L913.5,364.0 L914.0,364.0 L914.5,364.0 L915.0,364.0 L915.5,364.1 L916.0,364.1 L916.5,364.1 L917.0,364.1 L917.5,364.2 L918.0,364.2 L918.5,364.2 L919.0,364.2 L919.5,364.3 L920.0,364.3 L920.5,364.3 L921.0,364.3 L921.5,364.4 L922.0,364.4 L922.5,364.4 L923.0,364.5 L923.5,364.5 L924.0,364.5 L924.5,364.6 L924.9,364.6 L925.4,364.6 L925.9,364.6 L926.4,364.7 L926.9,364.7 L927.4,364.7 L927.9,364.8 L928.4,364.8 L928.9,364.8 L929.4,364.9 L929.9,364.9 L930.4,365.0 L930.9,365.0 L931.4,365.0 L931.9,365.1 L932.4,365.1 L932.9,365.1 L933.4,365.2 L933.9,365.2 L934.4,365.2 L934.9,365.3 L935.4,365.3 L935.9,365.4 L936.4,365.4 L936.9,365.4 L937.4,365.5 L937.9,365.5 L938.4,365.5 L938.9,365.6 L939.4,365.6 L939.9,365.7 L940.4,365.7 L940.9,365.7 L941.4,365.8 L941.9,365.8 L942.4,365.9 L942.9,365.9 L943.4,365.9 L943.9,366.0 L944.4,366.0 L944.9,366.1 L945.4,366.1 L945.9,366.1 L946.4,366.2 L946.9,366.2 L947.4,366.3 L947.9,366.3 L948.4,366.3 L948.9,366.4 L949.4,366.4 L949.9,366.5 L950.4,366.5 L950.9,366.5 L951.4,366.6 L951.9,366.6 L952.4,366.7 L952.9,366.7 L953.4,366.8 L953.9,366.8 L954.4,366.8 L954.9,366.9 L955.4,366.9 L955.9,367.0 L956.4,367.0 L956.9,367.0 L957.4,367.1 L957.9,367.1 L958.3,367.2 L958.8,367.2 L959.3,367.3 L959.8,367.3 L960.3,367.3 L960.8,367.4 L961.3,367.4 L961.8,367.5 L962.3,367.5 L962.8,367.6 L963.3,367.6 L963.8,367.6 L964.3,367.7 L964.8,367.7 L965.3,367.8 L965.8,367.8 L966.3,367.9 L966.8,367.9 L967.3,368.0 L967.8,368.0 L968.3,368.0 L968.8,368.1 L969.3,368.1 L969.8,368.2 L970.3,368.2 L970.8,368.3 L971.3,368.3 L971.8,368.3 L972.3,368.4 L972.8,368.4 L973.3,368.5 L973.8,368.5 L974.3,368.5 L974.8,368.6" fill="none" stroke="#e9dff3" stroke-width="2.6" stroke-linecap="round"/>
<path d="M866.0,362.2 L866.5,363.0 L867.0,363.4 L867.5,363.4 L868.0,363.0 L868.5,362.3 L869.0,361.6 L869.5,361.1 L870.0,361.2 L870.5,361.6 L871.0,362.4 L871.5,363.1 L872.0,363.6 L872.5,363.6 L873.0,363.2 L873.5,362.5 L874.0,361.7 L874.5,361.3 L875.0,361.3 L875.5,361.8 L876.0,362.5 L876.5,363.3 L877.0,363.8 L877.5,363.8 L878.0,363.3 L878.5,362.6 L879.0,361.9 L879.5,361.5 L880.0,361.5 L880.5,362.0 L881.0,362.7 L881.5,363.5 L882.0,363.9 L882.5,363.9 L883.0,363.5 L883.5,362.8 L884.0,362.1 L884.5,361.6 L885.0,361.7 L885.5,362.1 L886.0,362.9 L886.5,363.6 L886.9,364.1 L887.4,364.1 L888.0,363.7 L888.5,363.0 L889.0,362.2 L889.5,361.8 L890.0,361.8 L890.5,362.3 L891.0,363.0 L891.5,363.8 L891.9,364.3 L892.4,364.3 L893.0,363.9 L893.5,363.1 L894.0,362.4 L894.5,362.0 L895.0,362.0 L895.5,362.5 L896.0,363.2 L896.5,364.0 L896.9,364.5 L897.4,364.5 L898.0,364.0 L898.5,363.3 L899.0,362.6 L899.5,362.2 L900.0,362.2 L900.5,362.7 L901.0,363.4 L901.4,364.2 L901.9,364.6 L902.4,364.7 L902.9,364.2 L903.5,363.5 L904.0,362.8 L904.5,362.4 L905.0,362.4 L905.5,362.9 L906.0,363.6 L906.4,364.4 L906.9,364.9 L907.4,364.9 L907.9,364.4 L908.5,363.7 L909.0,363.0 L909.5,362.6 L910.0,362.6 L910.5,363.1 L911.0,363.8 L911.4,364.6 L911.9,365.1 L912.4,365.1 L912.9,364.7 L913.5,364.0 L914.0,363.2 L914.5,362.8 L915.0,362.8 L915.5,363.3 L916.0,364.1 L916.4,364.8 L916.9,365.3 L917.4,365.3 L917.9,364.9 L918.5,364.2 L919.0,363.5 L919.5,363.1 L920.0,363.1 L920.5,363.6 L921.0,364.3 L921.4,365.1 L921.9,365.6 L922.4,365.6 L922.9,365.2 L923.5,364.5 L924.0,363.8 L924.5,363.4 L925.0,363.4 L925.5,363.9 L925.9,364.6 L926.4,365.4 L926.9,365.9 L927.4,365.9 L927.9,365.5 L928.4,364.8 L929.0,364.1 L929.5,363.7 L930.0,363.7 L930.5,364.2 L930.9,365.0 L931.4,365.8 L931.9,366.2 L932.3,366.3 L932.9,365.9 L933.4,365.2 L934.0,364.5 L934.5,364.1 L935.0,364.1 L935.5,364.6 L935.9,365.4 L936.4,366.1 L936.8,366.6 L937.3,366.7 L937.9,366.2 L938.4,365.5 L939.0,364.8 L939.5,364.4 L940.0,364.5 L940.5,365.0 L940.9,365.7 L941.3,366.5 L941.8,367.0 L942.3,367.0 L942.8,366.6 L943.4,365.9 L944.0,365.2 L944.5,364.8 L945.0,364.9 L945.5,365.4 L945.9,366.1 L946.3,366.9 L946.8,367.4 L947.3,367.4 L947.8,367.0 L948.4,366.3 L948.9,365.6 L949.5,365.2 L950.0,365.3 L950.4,365.8 L950.9,366.5 L951.3,367.3 L951.8,367.8 L952.3,367.9 L952.8,367.4 L953.4,366.8 L953.9,366.1 L954.5,365.7 L955.0,365.7 L955.4,366.2 L955.9,367.0 L956.3,367.7 L956.8,368.2 L957.3,368.3 L957.8,367.9 L958.3,367.2 L958.9,366.5 L959.4,366.1 L959.9,366.1 L960.4,366.6 L960.8,367.4 L961.3,368.2 L961.7,368.7 L962.2,368.7 L962.8,368.3 L963.3,367.6 L963.9,366.9 L964.4,366.5 L964.9,366.6 L965.4,367.0 L965.8,367.8 L966.3,368.6 L966.7,369.1 L967.2,369.1 L967.8,368.7 L968.3,368.0 L968.9,367.3 L969.4,366.9 L969.9,367.0 L970.4,367.5 L970.8,368.3 L971.2,369.0 L971.7,369.5 L972.2,369.6 L972.7,369.2 L973.3,368.5 L973.9,367.8 L974.4,367.4 L974.9,367.4" fill="none" stroke="#8468bd" stroke-width="0.85"/>
<path d="M866.0,362.2 L866.5,361.5 L867.0,361.0 L867.5,361.1 L868.0,361.5 L868.5,362.3 L869.0,363.0 L869.5,363.5 L870.0,363.5 L870.5,363.1 L871.0,362.4 L871.5,361.7 L872.0,361.2 L872.5,361.2 L873.0,361.7 L873.5,362.5 L874.0,363.2 L874.5,363.7 L875.0,363.7 L875.5,363.3 L876.0,362.5 L876.5,361.8 L877.0,361.4 L877.5,361.4 L878.0,361.9 L878.5,362.6 L879.0,363.4 L879.5,363.8 L880.0,363.9 L880.5,363.4 L881.0,362.7 L881.5,362.0 L882.0,361.6 L882.5,361.6 L883.0,362.0 L883.5,362.8 L884.0,363.5 L884.4,364.0 L884.9,364.0 L885.5,363.6 L886.0,362.9 L886.5,362.2 L887.0,361.7 L887.5,361.7 L888.0,362.2 L888.5,363.0 L889.0,363.7 L889.4,364.2 L889.9,364.2 L890.5,363.8 L891.0,363.0 L891.5,362.3 L892.0,361.9 L892.5,361.9 L893.0,362.4 L893.5,363.1 L894.0,363.9 L894.4,364.4 L894.9,364.4 L895.5,363.9 L896.0,363.2 L896.5,362.5 L897.0,362.1 L897.5,362.1 L898.0,362.6 L898.5,363.3 L899.0,364.1 L899.4,364.5 L899.9,364.6 L900.5,364.1 L901.0,363.4 L901.5,362.7 L902.0,362.3 L902.5,362.3 L903.0,362.8 L903.5,363.5 L903.9,364.3 L904.4,364.7 L904.9,364.8 L905.4,364.3 L906.0,363.6 L906.5,362.9 L907.0,362.5 L907.5,362.5 L908.0,363.0 L908.5,363.7 L908.9,364.5 L909.4,365.0 L909.9,365.0 L910.4,364.5 L911.0,363.8 L911.5,363.1 L912.0,362.7 L912.5,362.7 L913.0,363.2 L913.5,364.0 L913.9,364.7 L914.4,365.2 L914.9,365.2 L915.4,364.8 L916.0,364.1 L916.5,363.4 L917.0,362.9 L917.5,363.0 L918.0,363.4 L918.5,364.2 L918.9,365.0 L919.4,365.4 L919.9,365.5 L920.4,365.0 L921.0,364.3 L921.5,363.6 L922.0,363.2 L922.5,363.2 L923.0,363.7 L923.5,364.5 L923.9,365.3 L924.4,365.7 L924.9,365.8 L925.4,365.4 L925.9,364.6 L926.5,363.9 L927.0,363.5 L927.5,363.6 L928.0,364.0 L928.4,364.8 L928.9,365.6 L929.4,366.1 L929.9,366.1 L930.4,365.7 L930.9,365.0 L931.5,364.3 L932.0,363.9 L932.5,363.9 L933.0,364.4 L933.4,365.2 L933.9,365.9 L934.3,366.4 L934.8,366.5 L935.4,366.0 L935.9,365.4 L936.5,364.7 L937.0,364.2 L937.5,364.3 L938.0,364.8 L938.4,365.5 L938.9,366.3 L939.3,366.8 L939.8,366.8 L940.4,366.4 L940.9,365.7 L941.5,365.0 L942.0,364.6 L942.5,364.7 L943.0,365.2 L943.4,365.9 L943.8,366.7 L944.3,367.2 L944.8,367.2 L945.3,366.8 L945.9,366.1 L946.5,365.4 L947.0,365.0 L947.5,365.1 L947.9,365.6 L948.4,366.3 L948.8,367.1 L949.3,367.6 L949.8,367.6 L950.3,367.2 L950.9,366.5 L951.4,365.9 L952.0,365.4 L952.5,365.5 L952.9,366.0 L953.4,366.8 L953.8,367.5 L954.3,368.0 L954.8,368.1 L955.3,367.7 L955.9,367.0 L956.4,366.3 L957.0,365.9 L957.5,365.9 L957.9,366.4 L958.3,367.2 L958.8,368.0 L959.2,368.4 L959.7,368.5 L960.3,368.1 L960.8,367.4 L961.4,366.7 L961.9,366.3 L962.4,366.3 L962.9,366.8 L963.3,367.6 L963.8,368.4 L964.2,368.9 L964.7,368.9 L965.3,368.5 L965.8,367.8 L966.4,367.1 L966.9,366.7 L967.4,366.8 L967.9,367.3 L968.3,368.0 L968.7,368.8 L969.2,369.3 L969.7,369.3 L970.2,368.9 L970.8,368.3 L971.4,367.6 L971.9,367.2 L972.4,367.2 L972.9,367.7 L973.3,368.5 L973.7,369.2 L974.2,369.7 L974.7,369.8" fill="none" stroke="#8468bd" stroke-width="0.85"/>
<path d="M866.0,331.0 L866.4,330.8 L866.9,330.5 L867.3,330.3 L867.8,330.0 L868.2,329.8 L868.6,329.6 L869.1,329.3 L869.5,329.1 L870.0,328.9 L870.4,328.6 L870.8,328.4 L871.3,328.1 L871.7,327.9 L872.1,327.7 L872.6,327.4 L873.0,327.2 L873.5,326.9 L873.9,326.7 L874.3,326.4 L874.7,326.2 L875.2,325.9 L875.6,325.6 L876.0,325.4 L876.4,325.1 L876.9,324.8 L877.3,324.5 L877.7,324.3 L878.1,324.0 L878.5,323.7 L878.9,323.4 L879.4,323.2 L879.8,322.9 L880.2,322.6 L880.6,322.3 L881.0,322.0 L881.4,321.8 L881.8,321.5 L882.3,321.2 L882.7,320.9 L883.1,320.6 L883.5,320.3 L883.9,320.1" fill="none" stroke="#e9dff3" stroke-width="2.6" stroke-linecap="round"/>
<path d="M866.0,331.0 L866.8,331.4 L867.4,331.6 L867.9,331.3 L868.1,330.7 L868.2,329.8 L868.3,328.9 L868.5,328.3 L869.0,328.1 L869.6,328.2 L870.4,328.6 L871.2,329.0 L871.9,329.2 L872.3,328.9 L872.5,328.3 L872.6,327.4 L872.7,326.5 L872.9,325.9 L873.3,325.6 L873.9,325.8 L874.7,326.2 L875.6,326.5 L876.2,326.6 L876.7,326.4 L876.8,325.7 L876.9,324.8 L876.9,323.9 L877.0,323.3 L877.5,323.0 L878.1,323.1 L878.9,323.4 L879.8,323.8 L880.4,323.9 L880.9,323.6 L881.0,322.9 L881.0,322.0 L881.0,321.1 L881.2,320.5 L881.6,320.2 L882.2,320.3 L883.1,320.6 L883.9,321.0 L884.6,321.0" fill="none" stroke="#8468bd" stroke-width="0.85"/>
<path d="M866.0,331.0 L866.1,330.1 L866.3,329.5 L866.8,329.2 L867.4,329.4 L868.2,329.8 L869.0,330.2 L869.6,330.4 L870.1,330.1 L870.3,329.5 L870.4,328.6 L870.5,327.7 L870.7,327.1 L871.1,326.9 L871.8,327.0 L872.6,327.4 L873.4,327.8 L874.0,327.9 L874.5,327.7 L874.7,327.0 L874.7,326.2 L874.8,325.3 L875.0,324.6 L875.4,324.4 L876.0,324.5 L876.9,324.8 L877.7,325.2 L878.4,325.3 L878.8,325.0 L878.9,324.3 L878.9,323.4 L878.9,322.6 L879.1,321.9 L879.5,321.6 L880.2,321.7 L881.0,322.0 L881.8,322.4 L882.5,322.5 L882.9,322.2 L883.1,321.5 L883.1,320.6 L883.1,319.7 L883.2,319.1" fill="none" stroke="#8468bd" stroke-width="0.85"/>
<path d="M893.0,279.0 L893.7,279.8 L894.5,280.8 L895.5,281.9 L896.6,283.2 L897.8,284.6 L899.1,286.1 L900.3,287.6 L901.6,289.1 L902.8,290.6 L904.0,292.0 L905.1,293.4 L906.2,294.7 L907.2,296.1 L908.3,297.5 L909.4,298.9 L910.5,300.3 L911.6,301.7 L912.7,303.1 L913.9,304.4 L915.2,305.8 L916.5,307.1 L917.9,308.4 L919.3,309.7 L920.8,311.0 L922.3,312.3 L923.8,313.6 L925.4,314.9 L926.9,316.3 L928.5,317.6 L930.0,319.0 L931.6,320.4 L933.3,321.8 L935.0,323.3 L936.8,324.7 L938.5,326.2 L940.2,327.7 L941.8,329.2 L943.3,330.8 L944.7,332.4 L945.9,334.0 L946.9,335.7 L947.7,337.4 L948.5,339.2 L949.1,341.0 L949.6,342.8 L950.0,344.7 L950.5,346.5 L950.9,348.4 L951.4,350.2 L952.0,352.0 L952.6,353.8 L953.1,355.6 L953.6,357.5 L954.0,359.3 L954.5,361.1 L955.0,362.9 L955.6,364.7 L956.3,366.5 L957.1,368.3 L958.0,370.0 L959.1,371.8 L960.5,373.6 L962.1,375.5 L963.7,377.3 L965.4,379.1 L967.0,380.8 L968.6,382.4 L970.0,383.9 L971.1,385.1 L972.0,386.0" fill="none" stroke="#1b3668" stroke-width="2.2" stroke-dasharray="0.6,2.5" stroke-linecap="round"/>
<path d="M869.0,385.0 L870.3,384.4 L871.9,383.7 L874.0,382.9 L876.2,381.9 L878.6,380.9 L881.0,379.8 L883.4,378.6 L885.7,377.4 L887.8,376.3 L889.5,375.1 L891.0,373.9 L892.3,372.7 L893.4,371.5 L894.5,370.2 L895.5,368.8 L896.4,367.5 L897.3,366.2 L898.2,364.8 L899.2,363.5 L900.2,362.2 L901.3,360.9 L902.3,359.5 L903.4,358.2 L904.5,356.8 L905.5,355.4 L906.6,354.1 L907.7,352.8 L908.7,351.5 L909.8,350.4 L910.9,349.3 L911.9,348.3 L912.9,347.4 L913.8,346.6 L914.6,345.8 L915.6,345.1 L916.5,344.4 L917.6,343.7 L918.9,343.1 L920.3,342.4 L922.0,341.8 L924.0,341.2 L926.3,340.6 L928.8,340.1 L931.5,339.5 L934.3,339.0 L937.1,338.5 L939.9,338.0 L942.5,337.5 L944.9,337.0 L947.0,336.4 L948.8,335.8 L950.5,335.3 L952.0,334.8 L953.4,334.2 L954.7,333.7 L955.9,333.1 L957.1,332.4 L958.4,331.7 L959.6,330.9 L961.0,330.0 L962.5,328.9 L964.0,327.6 L965.6,326.2 L967.3,324.7 L968.9,323.1 L970.4,321.6 L971.8,320.2 L973.1,318.9 L974.2,317.8 L975.0,317.0" fill="none" stroke="#1b3668" stroke-width="2.2" stroke-dasharray="0.6,2.5" stroke-linecap="round"/>
<path d="M866.0,313.0 L866.5,312.9 L867.0,312.8 L867.7,312.6 L868.4,312.5 L869.3,312.3 L870.2,312.1 L871.1,311.9 L872.2,311.7 L873.3,311.4 L874.4,311.1 L875.6,310.8 L877.0,310.5 L878.5,310.2 L880.0,309.9 L881.6,309.5 L883.2,309.1 L884.8,308.6 L886.4,308.1 L888.0,307.5 L889.5,306.8 L891.0,306.0 L892.4,305.1 L893.9,304.1 L895.4,303.0 L896.8,301.9 L898.2,300.8 L899.6,299.6 L900.9,298.4 L902.2,297.3 L903.4,296.1 L904.6,294.9 L905.7,293.6 L906.9,292.2 L908.0,290.8 L909.1,289.4 L910.1,288.0 L911.0,286.8 L911.8,285.7 L912.4,284.7 L913.0,284.0" fill="none" stroke="#3a5a8a" stroke-width="1.5" stroke-dasharray="0.3,2" stroke-linecap="round"/>
</g>
<line x1="917.50" y1="269.30" x2="917.26" y2="309.00" stroke="#1a1a1a" stroke-width="2.1"/>
<path d="M917.20,318.00 L912.51,307.97 L922.01,308.03 Z" fill="#1a1a1a"/>
<rect x="891.3" y="319.8" width="58.9" height="7.2" fill="#fff" stroke="#8a7a70" stroke-width="0.9"/>
<rect x="899.4" y="320.3" width="11" height="6.2" fill="#8aaad7"/>
<rect x="914.1" y="320.3" width="0.9" height="6.2" fill="#e8141e"/>
<rect x="920.4" y="320.3" width="29.4" height="6.2" fill="#fc9a60"/>
<line x1="921.50" y1="389.40" x2="921.50" y2="420.10" stroke="#1a1a1a" stroke-width="2"/>
<line x1="915.05" y1="420.10" x2="927.95" y2="420.10" stroke="#1a1a1a" stroke-width="2"/>
<rect x="871.1" y="431.8" width="104" height="43.1" rx="8" fill="#fff" stroke="#6a6a6a" stroke-width="1.4"/>
<text x="878.80" y="458.20" font-size="15" textLength="88.51" lengthAdjust="spacingAndGlyphs" fill="#1a1a1a" stroke="#1a1a1a" stroke-width="0.3" >Angiogenesis</text>
</svg>
</body></html>
